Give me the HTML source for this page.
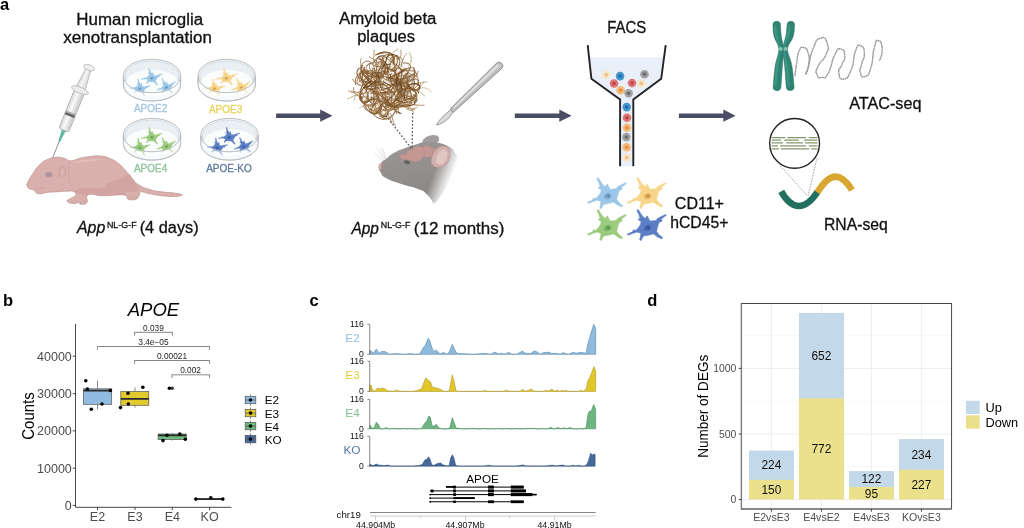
<!DOCTYPE html>
<html lang="en">
<head>
<meta charset="utf-8">
<title>Figure</title>
<style>
html,body{margin:0;padding:0;background:#fff;width:1024px;height:528px;overflow:hidden}
svg{display:block;position:absolute;left:0;top:0;filter:blur(0.4px)}
text{font-family:"Liberation Sans",sans-serif}
</style>
</head>
<body>
<svg width="1024" height="528" viewBox="0 0 1024 528">
<rect width="1024" height="528" fill="#fff"/>
<!-- Panel a : text and arrows -->
<g id="panel-a-text" fill="#111" stroke="#111" stroke-width="0.3">
<text x="0" y="9.6" font-size="16.5" font-weight="bold" fill="#000" stroke="none">a</text>
<text x="76.3" y="24.5" font-size="15.6" textLength="126.8" lengthAdjust="spacingAndGlyphs">Human microglia</text>
<text x="63.3" y="43" font-size="15.6" textLength="148.6" lengthAdjust="spacingAndGlyphs">xenotransplantation</text>
<text x="339.1" y="23.9" font-size="15.6" textLength="97.4" lengthAdjust="spacingAndGlyphs">Amyloid beta</text>
<text x="357.2" y="42.4" font-size="15.6" textLength="57.8" lengthAdjust="spacingAndGlyphs">plaques</text>
<text x="607.2" y="33.1" font-size="15.6" textLength="39" lengthAdjust="spacingAndGlyphs">FACS</text>
<text x="849.2" y="109.4" font-size="15.6" textLength="72.2" lengthAdjust="spacingAndGlyphs">ATAC-seq</text>
<text x="824" y="229.7" font-size="15.6" textLength="63.8" lengthAdjust="spacingAndGlyphs">RNA-seq</text>
<text x="674.8" y="209.4" font-size="15.6" textLength="49.2" lengthAdjust="spacingAndGlyphs">CD11+</text>
<text x="670.2" y="228.1" font-size="15.6" textLength="58.2" lengthAdjust="spacingAndGlyphs">hCD45+</text>
<text x="76.9" y="233" font-size="15.8" font-style="italic" textLength="28.4" lengthAdjust="spacingAndGlyphs">App</text>
<text x="106.9" y="227.5" font-size="9.2" textLength="29.7" lengthAdjust="spacingAndGlyphs">NL-G-F</text>
<text x="139.7" y="233" font-size="15.8" textLength="59" lengthAdjust="spacingAndGlyphs">(4 days)</text>
<text x="351.4" y="233.9" font-size="15.8" font-style="italic" textLength="27.6" lengthAdjust="spacingAndGlyphs">App</text>
<text x="380.8" y="228.3" font-size="9.2" textLength="29.5" lengthAdjust="spacingAndGlyphs">NL-G-F</text>
<text x="413.8" y="233.9" font-size="15.8" textLength="90.6" lengthAdjust="spacingAndGlyphs">(12 months)</text>
</g>
<g id="arrows" fill="#4b4d64">
<path d="M276.1 113.4H320.2V109.5L332.5 115.65L320.2 121.8V117.9H276.1Z"/>
<path d="M514.8 113.4H559.3V109.5L571.6 115.65L559.3 121.8V117.9H514.8Z"/>
<path d="M678.9 113.4H723.3V109.5L735.6 115.65L723.3 121.8V117.9H678.9Z"/>
</g>

<!-- Panel a : cells and petri dishes -->
<defs>
<g id="cell-b"><path d="M-10.00 -18.48L-9.09 -18.18L-6.52 -13.94L-4.24 -10.91L-1.97 -9.70L-0.76 -11.82L0.15 -11.97L0.76 -10.00L2.58 -6.82L8.33 -7.58L10.15 -9.70L11.97 -10.61L18.03 -13.64L18.64 -12.42L13.48 -8.64L14.70 -7.58L14.39 -6.67L11.97 -5.61L11.36 -4.55L10.15 -1.06L9.09 3.48L11.36 6.52L15.15 9.55L14.24 11.06L10.15 9.24L7.88 7.58L5.91 6.21L0.30 7.58L-3.79 8.18L-5.30 10.30L-6.36 12.73L-8.03 12.12L-7.27 8.03L-6.82 5.30L-10.76 4.24L-14.09 5.45L-19.55 7.42L-20.45 6.21L-15.30 3.79L-14.09 1.82L-13.03 1.82L-12.58 2.73L-9.55 0.00L-7.27 -3.33L-6.52 -6.36L-9.24 -7.88L-9.39 -8.94L-7.73 -9.39L-8.79 -13.18L-10.76 -17.27Z" fill="#9cc7e8" stroke="#9cc7e8" stroke-width="0.35" stroke-linejoin="round"/><ellipse cx="0" cy="0" rx="3.7" ry="2.8" transform="rotate(-20)" fill="#7aa7c9"/><ellipse cx="0.4" cy="-0.2" rx="1.5" ry="1" transform="rotate(20)" fill="#5a86a6"/></g>
<g id="cell-y"><path d="M-10.00 -18.48L-9.09 -18.18L-6.52 -13.94L-4.24 -10.91L-1.97 -9.70L-0.76 -11.82L0.15 -11.97L0.76 -10.00L2.58 -6.82L8.33 -7.58L10.15 -9.70L11.97 -10.61L18.03 -13.64L18.64 -12.42L13.48 -8.64L14.70 -7.58L14.39 -6.67L11.97 -5.61L11.36 -4.55L10.15 -1.06L9.09 3.48L11.36 6.52L15.15 9.55L14.24 11.06L10.15 9.24L7.88 7.58L5.91 6.21L0.30 7.58L-3.79 8.18L-5.30 10.30L-6.36 12.73L-8.03 12.12L-7.27 8.03L-6.82 5.30L-10.76 4.24L-14.09 5.45L-19.55 7.42L-20.45 6.21L-15.30 3.79L-14.09 1.82L-13.03 1.82L-12.58 2.73L-9.55 0.00L-7.27 -3.33L-6.52 -6.36L-9.24 -7.88L-9.39 -8.94L-7.73 -9.39L-8.79 -13.18L-10.76 -17.27Z" fill="#f7d58b" stroke="#f7d58b" stroke-width="0.35" stroke-linejoin="round"/><ellipse cx="0" cy="0" rx="3.7" ry="2.8" transform="rotate(-20)" fill="#e4b25e"/><ellipse cx="0.4" cy="-0.2" rx="1.5" ry="1" transform="rotate(20)" fill="#b58a3f"/></g>
<g id="cell-g"><path d="M-10.00 -18.48L-9.09 -18.18L-6.52 -13.94L-4.24 -10.91L-1.97 -9.70L-0.76 -11.82L0.15 -11.97L0.76 -10.00L2.58 -6.82L8.33 -7.58L10.15 -9.70L11.97 -10.61L18.03 -13.64L18.64 -12.42L13.48 -8.64L14.70 -7.58L14.39 -6.67L11.97 -5.61L11.36 -4.55L10.15 -1.06L9.09 3.48L11.36 6.52L15.15 9.55L14.24 11.06L10.15 9.24L7.88 7.58L5.91 6.21L0.30 7.58L-3.79 8.18L-5.30 10.30L-6.36 12.73L-8.03 12.12L-7.27 8.03L-6.82 5.30L-10.76 4.24L-14.09 5.45L-19.55 7.42L-20.45 6.21L-15.30 3.79L-14.09 1.82L-13.03 1.82L-12.58 2.73L-9.55 0.00L-7.27 -3.33L-6.52 -6.36L-9.24 -7.88L-9.39 -8.94L-7.73 -9.39L-8.79 -13.18L-10.76 -17.27Z" fill="#9bcb7d" stroke="#9bcb7d" stroke-width="0.35" stroke-linejoin="round"/><ellipse cx="0" cy="0" rx="3.7" ry="2.8" transform="rotate(-20)" fill="#76b35c"/><ellipse cx="0.4" cy="-0.2" rx="1.5" ry="1" transform="rotate(20)" fill="#4c8f47"/></g>
<g id="cell-k"><path d="M-10.00 -18.48L-9.09 -18.18L-6.52 -13.94L-4.24 -10.91L-1.97 -9.70L-0.76 -11.82L0.15 -11.97L0.76 -10.00L2.58 -6.82L8.33 -7.58L10.15 -9.70L11.97 -10.61L18.03 -13.64L18.64 -12.42L13.48 -8.64L14.70 -7.58L14.39 -6.67L11.97 -5.61L11.36 -4.55L10.15 -1.06L9.09 3.48L11.36 6.52L15.15 9.55L14.24 11.06L10.15 9.24L7.88 7.58L5.91 6.21L0.30 7.58L-3.79 8.18L-5.30 10.30L-6.36 12.73L-8.03 12.12L-7.27 8.03L-6.82 5.30L-10.76 4.24L-14.09 5.45L-19.55 7.42L-20.45 6.21L-15.30 3.79L-14.09 1.82L-13.03 1.82L-12.58 2.73L-9.55 0.00L-7.27 -3.33L-6.52 -6.36L-9.24 -7.88L-9.39 -8.94L-7.73 -9.39L-8.79 -13.18L-10.76 -17.27Z" fill="#5c7ec4" stroke="#5c7ec4" stroke-width="0.35" stroke-linejoin="round"/><ellipse cx="0" cy="0" rx="3.7" ry="2.8" transform="rotate(-20)" fill="#4466b0"/><ellipse cx="0.4" cy="-0.2" rx="1.5" ry="1" transform="rotate(20)" fill="#2b4b93"/></g>
</defs>
<g id="facs-cells">
<use href="#cell-b" x="607.7" y="196.1"/>
<use href="#cell-y" x="647.6" y="196.1"/>
<use href="#cell-g" x="607.7" y="227.9"/>
<use href="#cell-k" x="647.6" y="227.9"/>
</g>
<g id="dishes">
<path d="M123.4 75.5A28.6 16.2 0 0 1 180.6 75.5V84.8A28.6 16.2 0 0 1 123.4 84.8Z" fill="#f1f5f6" stroke="#b3b8bc" stroke-width="0.9"/>
<ellipse cx="152" cy="75.9" rx="27.0" ry="14.799999999999999" fill="#e9eff2" stroke="#c6cbcf" stroke-width="0.5"/>
<ellipse cx="152" cy="83.1" rx="26.0" ry="13.2" fill="#fbfdfd"/>
<path d="M124.60000000000001 77.5A27.400000000000002 15.2 0 0 0 179.4 77.5" fill="none" stroke="#c9ced2" stroke-width="0.7"/>
<use href="#cell-b" transform="translate(151.7 78.3) scale(0.5) rotate(14)"/>
<use href="#cell-b" transform="translate(139.8 88.7) scale(0.48) rotate(20)"/>
<use href="#cell-b" transform="translate(166.4 87.5) scale(0.48) rotate(4)"/>
<path d="M123.4 76.5A28.6 16.2 0 0 0 180.6 76.5V84.8A28.6 16.2 0 0 1 123.4 84.8Z" fill="#ffffff" fill-opacity="0.45" stroke="#b3b8bc" stroke-width="0.8"/>
<text x="150.6" y="111.8" font-size="10" text-anchor="middle" fill="#a3c5e0" stroke="#a3c5e0" stroke-width="0.3">APOE2</text>
<path d="M198.1 75.5A28.6 16.2 0 0 1 255.29999999999998 75.5V84.8A28.6 16.2 0 0 1 198.1 84.8Z" fill="#f1f5f6" stroke="#b3b8bc" stroke-width="0.9"/>
<ellipse cx="226.7" cy="75.9" rx="27.0" ry="14.799999999999999" fill="#e9eff2" stroke="#c6cbcf" stroke-width="0.5"/>
<ellipse cx="226.7" cy="83.1" rx="26.0" ry="13.2" fill="#fbfdfd"/>
<path d="M199.29999999999998 77.5A27.400000000000002 15.2 0 0 0 254.1 77.5" fill="none" stroke="#c9ced2" stroke-width="0.7"/>
<use href="#cell-y" transform="translate(226.4 78.3) scale(0.5) rotate(14)"/>
<use href="#cell-y" transform="translate(214.5 88.7) scale(0.48) rotate(20)"/>
<use href="#cell-y" transform="translate(241.1 87.5) scale(0.48) rotate(4)"/>
<path d="M198.1 76.5A28.6 16.2 0 0 0 255.29999999999998 76.5V84.8A28.6 16.2 0 0 1 198.1 84.8Z" fill="#ffffff" fill-opacity="0.45" stroke="#b3b8bc" stroke-width="0.8"/>
<text x="225.6" y="113.1" font-size="10" text-anchor="middle" fill="#e6d45c" stroke="#e6d45c" stroke-width="0.3">APOE3</text>
<path d="M123.4 134.6A28.6 16.2 0 0 1 180.6 134.6V143.9A28.6 16.2 0 0 1 123.4 143.9Z" fill="#f1f5f6" stroke="#b3b8bc" stroke-width="0.9"/>
<ellipse cx="152" cy="135.0" rx="27.0" ry="14.799999999999999" fill="#e9eff2" stroke="#c6cbcf" stroke-width="0.5"/>
<ellipse cx="152" cy="142.2" rx="26.0" ry="13.2" fill="#fbfdfd"/>
<path d="M124.60000000000001 136.6A27.400000000000002 15.2 0 0 0 179.4 136.6" fill="none" stroke="#c9ced2" stroke-width="0.7"/>
<use href="#cell-g" transform="translate(151.7 137.4) scale(0.5) rotate(14)"/>
<use href="#cell-g" transform="translate(139.8 147.8) scale(0.48) rotate(20)"/>
<use href="#cell-g" transform="translate(166.4 146.6) scale(0.48) rotate(4)"/>
<path d="M123.4 135.6A28.6 16.2 0 0 0 180.6 135.6V143.9A28.6 16.2 0 0 1 123.4 143.9Z" fill="#ffffff" fill-opacity="0.45" stroke="#b3b8bc" stroke-width="0.8"/>
<text x="150.6" y="172.3" font-size="10" text-anchor="middle" fill="#8cc49a" stroke="#8cc49a" stroke-width="0.3">APOE4</text>
<path d="M200.9 134.6A28.6 16.2 0 0 1 258.1 134.6V143.9A28.6 16.2 0 0 1 200.9 143.9Z" fill="#f1f5f6" stroke="#b3b8bc" stroke-width="0.9"/>
<ellipse cx="229.5" cy="135.0" rx="27.0" ry="14.799999999999999" fill="#e9eff2" stroke="#c6cbcf" stroke-width="0.5"/>
<ellipse cx="229.5" cy="142.2" rx="26.0" ry="13.2" fill="#fbfdfd"/>
<path d="M202.1 136.6A27.400000000000002 15.2 0 0 0 256.90000000000003 136.6" fill="none" stroke="#c9ced2" stroke-width="0.7"/>
<use href="#cell-k" transform="translate(229.2 137.4) scale(0.5) rotate(14)"/>
<use href="#cell-k" transform="translate(217.3 147.8) scale(0.48) rotate(20)"/>
<use href="#cell-k" transform="translate(243.9 146.6) scale(0.48) rotate(4)"/>
<path d="M200.9 135.6A28.6 16.2 0 0 0 258.1 135.6V143.9A28.6 16.2 0 0 1 200.9 143.9Z" fill="#ffffff" fill-opacity="0.45" stroke="#b3b8bc" stroke-width="0.8"/>
<text x="229" y="172.3" font-size="10" text-anchor="middle" fill="#5d7a9e" stroke="#5d7a9e" stroke-width="0.3">APOE-KO</text>
</g>

<!-- Panel a : syringe and pup -->
<g id="pup">
<path d="M27.4 183.2C28.9 179.8 28.6 180.1 32.3 174.5C36.0 169.0 34.9 169.3 39.7 164.7C44.5 160.1 43.1 161.4 48.3 159.2C53.5 156.9 52.1 157.6 56.9 157.3C61.7 157.1 60.3 157.3 64.3 158.3C68.4 159.3 66.0 160.7 70.5 160.8C74.9 160.8 73.6 159.8 79.1 158.5C84.6 157.3 82.7 157.4 88.9 156.7C95.2 156.0 93.8 155.5 100.0 156.1C106.3 156.6 104.3 156.3 109.8 158.5C115.4 160.8 113.7 159.8 118.5 163.5C123.3 167.2 121.8 166.4 125.9 170.9C129.9 175.3 128.3 174.2 132.0 178.2C135.7 182.3 133.0 181.1 138.2 184.4C143.3 187.7 142.2 187.1 149.2 189.3C156.3 191.5 154.2 190.7 161.6 191.8C168.9 192.9 168.1 192.3 173.9 193.0C179.6 193.8 178.5 193.5 180.6 194.2C182.8 195.0 183.0 194.8 181.0 195.5C179.0 196.1 179.7 196.4 173.9 196.5C168.0 196.5 168.9 196.6 161.6 195.7C154.2 194.9 155.5 194.8 149.2 193.6C143.0 192.5 143.5 191.6 140.6 191.8C137.7 192.0 140.8 192.2 139.6 194.2C138.5 196.3 139.2 196.9 136.9 198.6C134.6 200.2 134.8 199.7 132.0 199.8C129.2 199.9 129.6 200.2 127.7 198.9C125.8 197.6 128.4 196.7 125.6 195.5C122.8 194.3 123.9 194.8 118.5 194.9C113.0 194.9 112.9 195.5 107.4 195.7C101.9 195.9 105.2 195.9 100.0 195.5C94.9 195.0 94.2 193.9 90.2 194.2C86.2 194.6 87.7 194.3 86.7 196.7C85.8 199.1 88.7 200.0 87.1 202.3C85.5 204.5 84.3 204.2 81.6 204.3C78.8 204.5 80.3 202.8 77.9 202.6C75.5 202.4 76.7 204.0 73.6 203.7C70.4 203.4 68.7 203.0 67.4 201.6C66.1 200.3 66.8 201.0 69.2 199.2C71.6 197.3 73.9 197.7 75.4 195.5C76.9 193.3 76.8 193.1 74.2 191.8C71.6 190.5 72.0 191.2 66.8 191.2C61.6 191.2 62.8 191.4 56.9 191.8C51.0 192.2 52.6 191.8 47.1 192.4C41.5 193.0 42.5 194.4 38.5 193.6C34.4 192.9 36.3 191.4 33.5 189.9C30.8 188.5 31.2 190.0 29.2 188.7C27.3 187.4 27.7 187.3 27.1 185.6C26.6 184.0 25.8 186.5 27.4 183.2Z" fill="#d9b0ae" stroke="#bd8f8d" stroke-width="0.7" stroke-linejoin="round"/>
<path d="M74.2 192.0C74.5 190.7 74.9 190.7 77.9 189.3C80.8 188.0 79.2 187.8 84.0 187.5C88.8 187.2 88.0 188.5 93.9 188.3C99.8 188.2 99.7 188.4 103.7 186.9C107.8 185.3 103.0 185.4 107.4 183.2C111.8 181.0 112.2 182.1 118.5 179.5C124.7 176.9 124.2 174.8 128.3 174.5C132.5 174.3 129.7 175.3 132.3 178.5C134.8 181.6 135.5 181.4 136.9 185.0C138.3 188.6 140.1 188.3 136.9 190.6C133.8 192.8 129.9 191.0 126.5 192.4C123.1 193.8 128.0 194.5 125.6 195.2C123.2 196.0 123.9 194.7 118.5 194.9C113.0 195.0 112.9 195.5 107.4 195.7C101.9 195.9 105.2 195.9 100.0 195.5C94.9 195.0 93.9 194.2 90.2 194.2C86.4 194.3 90.1 195.7 87.5 195.7C84.9 195.7 84.8 194.9 81.6 194.2C78.3 193.6 78.9 194.3 76.6 193.6C74.4 193.0 73.8 193.3 74.2 192.0Z" fill="#cb9a98" fill-opacity="0.5"/>
<path d="M72 163C80 160 92 158.5 104 159.5C96 161 82 162.5 72 163Z" fill="#e6c0be" fill-opacity="0.8"/>
<ellipse cx="48.9" cy="174.6" rx="3.6" ry="2.9" fill="#b4969d"/>
<path d="M46.3 174.6Q49 175.8 51.6 174.2" fill="none" stroke="#9c8088" stroke-width="0.5"/>
<path d="M60 176.5C58.6 172.5 60 168 62.4 167C65.2 167.3 66.2 171.5 64.6 174.8C63.6 176.2 62.4 176.6 61.6 176" fill="#dcb5b3" stroke="#b98c8a" stroke-width="0.6"/>
<path d="M32 182.6Q33 182.2 33.4 183" fill="none" stroke="#b98987" stroke-width="0.5"/>
<path d="M34.5 189.5Q40 189.5 44.5 187.6" fill="none" stroke="#c08f8d" stroke-width="0.5"/>
<path d="M69.5 162Q67 172 69.5 182Q71.5 188 76 192" fill="none" stroke="#cf9f9d" stroke-width="0.5"/>
<path d="M129.6 196.2Q129 198 129.8 199.3M132.8 196.4Q132.6 198.4 133.2 199.8M135.8 196Q136 198 136.4 199" fill="none" stroke="#bd8f8d" stroke-width="0.5"/>
<path d="M72.5 200.5L70.6 203M76.6 201L76 203.6M80.8 201L81.4 204M84.4 200L85.8 202.6" fill="none" stroke="#bd8f8d" stroke-width="0.5"/>
</g>
<g id="syringe" transform="translate(89.1 67.6) rotate(22)">
<line x1="0" y1="78" x2="0" y2="96.8" stroke="#6d6d6d" stroke-width="0.7"/>
<path d="M-2 66.5H2L0.7 79.5H-0.7Z" fill="#5fb9a4" stroke="#3f9a86" stroke-width="0.3"/>
<path d="M-5.3 25H5.3V65Q5.3 67.8 2.6 67.8H-2.6Q-5.3 67.8 -5.3 65Z" fill="#e3e3e3" stroke="#9e9e9e" stroke-width="0.7"/>
<path d="M-2.6 26H0.4V66.6H-2.6Z" fill="#f6f6f6"/>
<path d="M2.8 26H4.8V66H2.8Z" fill="#d0d0d0"/>
<path d="M-5 50H5V52.4H-5Z" fill="#5f5f5f"/>
<path d="M-5 48.4H5V50H-5Z" fill="#a5a5a5"/>
<path d="M-2.6 1.5H2.6L4.8 22.5H-4.8Z" fill="#e3e3e3" stroke="#a0a0a0" stroke-width="0.6"/>
<path d="M-1.4 2.5H0.6L1 22H-1.8Z" fill="#f4f4f4"/>
<ellipse cx="0" cy="24.3" rx="9" ry="3" fill="#ececec" stroke="#a6a6a6" stroke-width="0.6"/>
<ellipse cx="0" cy="0" rx="5.8" ry="2.7" fill="#f0f0f0" stroke="#a6a6a6" stroke-width="0.6"/>
</g>

<!-- Panel a : amyloid plaque, scalpel, adult mouse head -->
<g id="plaque" fill="none" stroke-linecap="round">
<ellipse cx="388.6" cy="86.3" rx="25.2" ry="25.2" fill="#8c6636" fill-opacity="0.15" stroke="none"/>
<path d="M377.5 108.5C376.9 109.4 376.6 109.2 375.7 111.1C374.7 113.0 375.0 112.6 374.7 114.1C374.4 115.7 374.7 115.2 374.7 115.7" stroke="#b1925f" stroke-width="0.8"/>
<path d="M390.2 113.3C390.7 114.3 390.9 114.2 391.7 116.1C392.5 118.1 392.0 117.2 392.6 119.2C393.2 121.2 392.7 120.3 393.5 122.3C394.4 124.2 394.6 124.1 395.1 125.0C395.6 126.0 395.1 125.0 395.1 125.0" stroke="#94683a" stroke-width="0.8"/>
<path d="M403.8 105.7C404.7 106.2 404.7 106.3 406.6 107.2C408.5 108.2 407.5 108.0 409.6 108.4C411.6 108.9 410.6 108.9 412.7 108.7C414.8 108.5 414.3 108.4 415.8 107.8C417.3 107.2 416.7 107.2 417.1 107.0" stroke="#a27a48" stroke-width="0.8"/>
<path d="M360.1 92.6C359.2 93.1 358.9 92.8 357.3 94.2C355.7 95.5 356.3 94.8 355.3 96.6C354.3 98.4 354.6 98.6 354.3 99.6C354.0 100.6 354.3 99.6 354.3 99.6" stroke="#b1925f" stroke-width="0.8"/>
<path d="M408.0 104.1C408.6 105.0 408.6 105.0 409.8 106.8C411.0 108.5 410.5 107.5 411.6 109.4C412.8 111.2 412.6 111.2 413.1 112.2C413.6 113.1 413.1 112.2 413.1 112.2" stroke="#a27a48" stroke-width="0.8"/>
<path d="M366.0 71.1C365.2 70.4 365.1 70.5 363.6 68.9C362.2 67.4 362.7 68.2 361.7 66.4C360.7 64.5 361.0 65.4 360.7 63.4C360.3 61.3 360.6 61.8 360.7 60.2C360.9 58.6 361.0 59.2 361.1 58.6" stroke="#a27a48" stroke-width="0.8"/>
<path d="M414.9 90.1C415.8 89.5 416.1 89.8 417.7 88.4C419.2 87.1 418.6 87.8 419.6 85.9C420.6 84.1 420.4 83.9 420.7 82.9C421.1 81.9 420.7 82.9 420.7 82.9" stroke="#94683a" stroke-width="0.8"/>
<path d="M367.8 101.1C367.2 102.0 367.5 102.3 366.2 103.8C364.8 105.4 365.4 104.6 363.6 105.8C361.8 106.9 362.2 106.4 360.8 107.2C359.4 108.0 359.9 107.8 359.4 108.1" stroke="#c2a673" stroke-width="0.8"/>
<path d="M417.2 88.5C418.1 87.9 418.2 88.1 419.9 86.8C421.5 85.4 420.8 86.1 422.1 84.4C423.4 82.8 423.2 82.6 423.7 81.7C424.3 80.8 423.7 81.7 423.7 81.7" stroke="#b1925f" stroke-width="0.8"/>
<path d="M360.8 94.1C359.8 93.6 359.8 93.5 357.9 92.8C355.9 92.0 356.9 92.2 354.8 91.7C352.8 91.2 353.8 91.4 351.7 91.3C349.6 91.1 349.5 91.2 348.5 91.2C347.4 91.2 348.5 91.2 348.5 91.2" stroke="#b1925f" stroke-width="0.8"/>
<path d="M410.3 102.6C411.2 103.1 411.1 103.5 413.1 104.3C415.0 105.0 414.1 104.6 416.2 104.9C418.3 105.2 417.2 105.1 419.4 105.2C421.5 105.4 421.0 105.4 422.6 105.3C424.2 105.3 423.6 105.2 424.1 105.1" stroke="#94683a" stroke-width="0.8"/>
<path d="M363.1 89.5C362.2 90.0 362.3 90.2 360.4 91.2C358.5 92.1 359.4 91.8 357.4 92.3C355.3 92.8 356.3 92.8 354.2 92.7C352.1 92.6 352.1 92.3 351.1 92.0C350.1 91.8 351.1 92.0 351.1 92.0" stroke="#a27a48" stroke-width="0.8"/>
<path d="M417.2 82.4C418.2 82.4 418.2 82.5 420.4 82.5C422.5 82.5 421.4 82.5 423.6 82.4C425.7 82.2 425.7 82.2 426.8 82.1C427.8 82.0 426.8 82.1 426.8 82.1" stroke="#c2a673" stroke-width="0.8"/>
<path d="M398.5 59.5C399.1 58.6 399.5 58.8 400.3 56.9C401.2 55.0 401.0 55.9 401.1 53.8C401.2 51.7 400.9 51.7 400.7 50.6C400.6 49.6 400.7 50.6 400.7 50.6" stroke="#a27a48" stroke-width="0.8"/>
<path d="M360.9 95.8C359.9 95.6 359.9 95.2 357.8 95.1C355.8 95.0 356.7 94.9 354.7 95.5C352.7 96.1 353.7 96.0 351.8 96.9C349.9 97.8 350.4 97.6 348.9 98.3C347.5 98.9 347.9 98.7 347.4 98.9" stroke="#b1925f" stroke-width="0.8"/>
<path d="M401.1 65.1C401.5 64.1 401.5 64.1 402.2 62.1C403.0 60.1 402.5 61.0 403.3 59.1C404.1 57.1 403.5 58.0 404.5 56.1C405.6 54.2 405.8 54.4 406.4 53.5C407.0 52.6 406.4 53.5 406.4 53.5" stroke="#b1925f" stroke-width="0.8"/>
<path d="M384.7 61.7C384.2 60.7 383.8 60.9 383.1 58.9C382.5 56.9 382.6 57.8 382.6 55.7C382.7 53.6 383.1 53.7 383.4 52.6C383.6 51.6 383.4 52.6 383.4 52.6" stroke="#c2a673" stroke-width="0.8"/>
<path d="M416.8 90.1C417.7 90.7 417.8 90.5 419.6 91.7C421.3 92.9 420.4 92.4 422.1 93.7C423.7 95.1 423.7 95.1 424.5 95.8C425.3 96.5 424.5 95.8 424.5 95.8" stroke="#c2a673" stroke-width="0.8"/>
<path d="M390.8 60.6C390.9 59.5 390.7 59.5 391.1 57.4C391.6 55.3 391.1 56.2 392.0 54.3C392.9 52.4 392.4 53.2 393.9 51.7C395.4 50.3 395.2 50.8 396.5 49.9C397.8 49.1 397.4 49.4 397.9 49.1" stroke="#b1925f" stroke-width="0.8"/>
<path d="M408.4 66.0C409.0 65.1 409.4 65.3 410.3 63.5C411.3 61.6 411.0 62.5 411.2 60.4C411.5 58.3 411.4 59.3 411.1 57.2C410.7 55.1 410.6 55.7 410.1 54.2C409.6 52.6 409.8 53.2 409.6 52.7" stroke="#b1925f" stroke-width="0.8"/>
<path d="M388.8 111.8C388.2 112.7 388.5 113.0 387.0 114.4C385.5 115.9 386.3 115.4 384.4 116.2C382.4 117.0 382.8 116.7 381.2 116.8C379.7 116.9 380.2 116.7 379.6 116.6" stroke="#94683a" stroke-width="0.8"/>
<path d="M360.1 84.8C359.1 84.6 358.9 84.9 357.0 84.0C355.2 83.1 356.0 83.5 354.5 82.0C353.1 80.5 353.3 80.3 352.7 79.4C352.1 78.6 352.7 79.4 352.7 79.4" stroke="#94683a" stroke-width="0.8"/>
<path d="M407.7 104.6C408.8 104.6 408.8 104.5 410.9 104.6C413.0 104.7 412.0 104.6 414.1 104.8C416.2 105.1 416.2 105.2 417.2 105.5C418.3 105.7 417.2 105.5 417.2 105.5" stroke="#c2a673" stroke-width="0.8"/>
<path d="M388.1 111.0C388.2 112.1 388.0 112.1 388.5 114.2C388.9 116.3 388.6 115.3 389.4 117.3C390.2 119.3 389.9 118.2 390.7 120.2C391.6 122.1 391.5 122.2 391.9 123.1C392.3 124.1 391.9 123.1 391.9 123.1" stroke="#a27a48" stroke-width="0.8"/>
<path d="M376.9 111.8C377.5 112.7 377.2 112.9 378.6 114.5C380.0 116.0 379.3 115.4 381.1 116.4C383.0 117.5 382.1 116.8 384.1 117.6C386.1 118.3 386.1 118.4 387.1 118.8C388.1 119.2 387.1 118.8 387.1 118.8" stroke="#b1925f" stroke-width="0.8"/>
<path d="M410.6 99.2C410.8 100.2 411.2 100.2 411.1 102.3C410.9 104.4 411.1 103.5 410.2 105.4C409.3 107.3 409.0 107.1 408.3 107.9C407.7 108.8 408.3 107.9 408.3 107.9" stroke="#94683a" stroke-width="0.8"/>
<path d="M381.1 63.0C380.1 62.6 380.1 62.6 378.2 61.7C376.2 60.8 377.2 61.3 375.3 60.3C373.4 59.3 374.4 59.8 372.5 58.7C370.7 57.6 370.7 57.5 369.8 57.0C368.9 56.4 369.8 57.0 369.8 57.0" stroke="#94683a" stroke-width="0.8"/>
<path d="M418.1 88.4C419.2 88.3 419.1 88.1 421.3 87.9C423.4 87.8 422.4 87.7 424.4 88.0C426.5 88.3 425.6 88.0 427.5 88.9C429.4 89.8 429.0 89.6 430.2 90.6C431.4 91.6 430.9 91.5 431.2 91.9" stroke="#c2a673" stroke-width="0.8"/>
<path d="M381.9 112.3C382.5 113.1 382.3 113.4 383.6 114.9C385.0 116.5 384.3 116.0 386.1 117.0C387.9 118.1 387.6 117.6 389.1 118.1C390.6 118.5 390.1 118.2 390.7 118.3" stroke="#b1925f" stroke-width="0.8"/>
<path d="M373.5 63.1C373.5 62.1 373.3 62.1 373.4 59.9C373.4 57.8 373.6 58.9 373.7 56.8C373.9 54.6 373.7 55.7 373.9 53.6C374.1 51.4 374.2 51.4 374.3 50.4C374.5 49.3 374.3 50.4 374.3 50.4" stroke="#a27a48" stroke-width="0.8"/>
<path d="M411.7 83.7C412.7 83.8 412.7 83.8 414.8 84.2C416.9 84.6 416.3 83.8 418.0 84.8C419.7 85.8 419.5 85.4 419.9 87.2C420.3 89.0 420.1 88.5 419.1 90.2C418.0 91.9 418.3 91.0 416.7 92.4C415.1 93.8 415.5 92.8 414.2 94.4C412.9 96.0 413.4 95.8 412.7 97.2C412.1 98.6 412.4 98.2 412.2 98.7" stroke="#a88458" stroke-width="0.9"/>
<path d="M402.4 83.3C401.8 84.2 401.6 84.1 400.6 85.9C399.5 87.8 399.8 86.8 399.3 88.8C398.8 90.9 398.8 90.0 399.1 92.0C399.5 94.1 399.9 94.0 400.2 95.0C400.6 96.0 400.2 95.0 400.2 95.0" stroke="#80552a" stroke-width="0.9"/>
<path d="M382.4 105.5C383.3 106.1 383.6 105.8 385.0 107.3C386.5 108.8 386.0 108.0 386.9 109.9C387.7 111.8 387.7 111.0 387.5 113.0C387.4 115.0 387.8 114.8 386.4 115.8C384.9 116.8 385.0 116.7 383.2 116.0C381.4 115.4 381.9 115.7 380.9 113.9C380.0 112.2 380.3 112.9 380.3 110.8C380.3 108.7 380.1 109.6 381.0 107.7C381.8 105.7 382.2 105.9 382.8 105.0C383.4 104.2 382.8 105.0 382.8 105.0" stroke="#80552a" stroke-width="1.1"/>
<path d="M367.9 74.2C367.2 73.4 367.5 72.8 365.8 71.8C364.1 70.8 364.5 70.6 362.8 71.2C361.2 71.8 361.5 71.8 360.8 73.6C360.1 75.5 360.4 74.7 360.7 76.8C361.0 78.9 360.8 77.9 361.7 79.8C362.6 81.7 362.3 80.7 363.3 82.6C364.4 84.4 364.2 83.9 364.9 85.3C365.7 86.7 365.4 86.3 365.7 86.8" stroke="#8c6236" stroke-width="1.1"/>
<path d="M366.1 90.0C366.7 89.2 366.6 89.1 368.0 87.5C369.3 85.8 368.6 86.6 370.2 85.1C371.7 83.7 370.9 84.4 372.7 83.1C374.4 81.9 373.6 82.6 375.3 81.4C377.1 80.2 376.6 80.5 377.9 79.4C379.1 78.4 378.6 78.7 379.0 78.3" stroke="#a88458" stroke-width="0.9"/>
<path d="M388.0 72.3C387.0 72.1 387.0 71.9 384.9 71.8C382.7 71.7 383.8 71.6 381.7 71.9C379.6 72.2 380.5 71.9 378.5 72.6C376.5 73.3 376.6 73.5 375.6 74.0C374.7 74.4 375.6 74.0 375.6 74.0" stroke="#8c6236" stroke-width="1.1"/>
<path d="M375.1 82.0C376.1 82.3 376.1 82.4 378.2 82.9C380.2 83.4 379.3 82.9 381.3 83.5C383.3 84.1 382.5 83.6 384.3 84.7C386.1 85.7 385.1 85.3 386.7 86.7C388.3 88.2 387.5 87.5 389.0 88.9C390.6 90.4 390.2 90.0 391.4 91.1C392.6 92.1 392.2 91.8 392.6 92.1" stroke="#855a2e" stroke-width="1.1"/>
<path d="M385.1 74.6C385.7 73.8 386.1 73.9 386.9 72.0C387.8 70.1 387.6 71.0 387.7 68.9C387.7 66.9 387.8 67.8 387.1 65.8C386.4 63.8 386.8 64.7 385.5 63.0C384.2 61.4 384.8 62.2 383.1 60.9C381.4 59.7 381.8 59.9 380.4 59.3C378.9 58.7 379.3 59.3 378.8 59.2" stroke="#80552a" stroke-width="1.1"/>
<path d="M384.8 101.3C383.9 102.0 383.8 101.8 382.3 103.4C380.8 104.9 381.3 104.0 380.3 105.8C379.3 107.7 379.7 106.8 379.3 108.9C378.9 111.0 378.8 110.1 379.1 112.1C379.4 114.1 378.9 113.8 380.3 114.9C381.7 115.9 381.5 115.7 383.4 115.2C385.3 114.7 384.3 114.6 385.9 113.3C387.6 112.0 386.6 112.4 388.4 111.3C390.2 110.2 390.4 110.5 391.3 110.1C392.3 109.6 391.3 110.1 391.3 110.1" stroke="#9a7444" stroke-width="1.1"/>
<path d="M409.3 92.9C408.3 93.3 408.2 93.2 406.3 94.1C404.4 95.1 405.2 94.5 403.6 95.8C401.9 97.0 402.5 96.3 401.3 98.0C400.1 99.7 400.7 98.9 400.0 100.9C399.2 102.9 399.5 101.9 399.0 104.0C398.5 106.0 398.6 105.0 398.4 107.1C398.2 109.2 398.0 108.2 398.3 110.3C398.6 112.4 399.0 112.3 399.3 113.3C399.6 114.3 399.3 113.3 399.3 113.3" stroke="#9a7444" stroke-width="1.0"/>
<path d="M395.7 68.9C394.7 69.1 394.7 69.1 392.6 69.5C390.5 69.9 391.5 69.6 389.5 70.1C387.4 70.7 388.4 70.3 386.5 71.3C384.6 72.3 385.4 71.7 383.8 73.1C382.3 74.5 382.9 73.7 381.8 75.5C380.7 77.3 380.9 77.5 380.5 78.4C380.0 79.4 380.5 78.4 380.5 78.4" stroke="#9a7444" stroke-width="0.9"/>
<path d="M385.3 91.7C385.2 92.7 385.2 92.7 385.2 94.9C385.2 97.0 385.0 96.0 385.3 98.1C385.6 100.2 385.2 99.3 386.1 101.1C387.0 103.0 386.6 102.1 388.1 103.7C389.5 105.2 388.9 104.3 390.4 105.8C391.9 107.3 391.0 106.8 392.6 108.2C394.1 109.6 393.4 108.9 395.1 110.1C396.8 111.4 395.9 111.0 397.7 112.0C399.5 113.0 399.6 112.8 400.6 113.2C401.5 113.6 400.6 113.2 400.6 113.2" stroke="#7c5228" stroke-width="1.1"/>
<path d="M405.2 78.3C404.2 78.5 404.1 78.5 402.1 79.0C400.0 79.5 401.1 79.3 399.0 79.8C396.9 80.2 397.9 80.3 395.8 80.4C393.7 80.5 394.7 80.6 392.7 80.1C390.6 79.6 391.7 79.8 389.7 78.9C387.8 78.0 388.3 78.2 386.9 77.5C385.4 76.8 385.9 77.1 385.4 76.9" stroke="#80552a" stroke-width="1.0"/>
<path d="M385.6 94.9C385.7 95.9 385.4 96.0 385.9 98.0C386.4 100.1 386.1 99.2 387.1 101.0C388.2 102.8 387.6 102.1 389.2 103.4C390.9 104.7 390.0 104.3 392.0 104.9C394.0 105.5 393.1 105.2 395.2 105.2C397.3 105.2 396.3 105.0 398.4 104.8C400.5 104.6 400.0 104.7 401.6 104.6C403.2 104.6 402.6 104.6 403.2 104.6" stroke="#9a7444" stroke-width="0.8"/>
<path d="M371.2 97.1C372.1 97.6 372.1 97.6 374.0 98.7C375.8 99.7 374.8 99.3 376.8 100.2C378.7 101.1 377.8 100.6 379.8 101.3C381.8 102.0 380.8 101.6 382.8 102.2C384.9 102.8 384.9 102.8 385.9 103.1C386.9 103.4 385.9 103.1 385.9 103.1" stroke="#80552a" stroke-width="1.1"/>
<path d="M387.4 68.3C387.7 69.3 387.5 69.4 388.2 71.4C389.0 73.4 388.6 72.4 389.6 74.3C390.6 76.2 390.2 75.2 391.3 77.0C392.4 78.8 391.6 78.1 393.0 79.7C394.3 81.3 393.6 80.6 395.3 81.9C397.0 83.2 396.1 82.6 398.0 83.6C399.9 84.6 398.9 84.3 401.0 84.9C403.0 85.4 402.0 85.3 404.1 85.2C406.2 85.2 406.2 84.8 407.3 84.6C408.3 84.5 407.3 84.6 407.3 84.6" stroke="#80552a" stroke-width="0.9"/>
<path d="M368.2 93.0C368.1 94.0 367.8 94.0 367.9 96.1C368.1 98.2 367.8 97.3 368.7 99.2C369.5 101.2 369.0 100.3 370.4 101.9C371.8 103.5 371.6 103.0 372.8 104.0C373.9 105.1 373.5 104.8 373.9 105.2" stroke="#66441e" stroke-width="0.9"/>
<path d="M402.0 86.5C401.4 87.4 401.3 87.3 400.2 89.2C399.1 91.0 399.8 90.2 398.8 92.0C397.7 93.9 398.1 92.9 397.1 94.8C396.1 96.7 396.5 95.7 395.8 97.7C395.0 99.7 395.3 98.7 394.9 100.7C394.4 102.8 394.6 101.8 394.4 103.9C394.3 106.0 394.1 105.0 394.4 107.1C394.7 109.2 394.6 108.2 395.3 110.2C396.0 112.2 396.1 112.1 396.5 113.1C396.9 114.1 396.5 113.1 396.5 113.1" stroke="#80552a" stroke-width="1.0"/>
<path d="M390.7 80.3C391.1 81.3 391.1 81.3 391.8 83.3C392.6 85.3 392.2 84.3 392.9 86.3C393.6 88.3 393.6 87.3 394.0 89.3C394.4 91.4 394.2 91.0 394.1 92.5C394.1 94.1 393.9 93.6 393.8 94.1" stroke="#8c6236" stroke-width="0.8"/>
<path d="M390.4 103.7C391.3 103.3 391.4 103.4 393.3 102.4C395.1 101.3 394.2 101.8 395.9 100.5C397.6 99.2 396.6 99.8 398.3 98.5C400.0 97.2 399.1 97.5 401.0 96.7C402.9 95.8 402.0 96.1 404.1 95.9C406.2 95.8 405.2 95.8 407.3 96.2C409.3 96.6 408.3 96.4 410.3 97.1C412.3 97.8 411.3 97.7 413.3 98.2C415.3 98.7 415.4 98.5 416.4 98.6C417.4 98.7 416.4 98.6 416.4 98.6" stroke="#8c6236" stroke-width="1.0"/>
<path d="M370.0 88.5C370.8 89.2 370.6 89.5 372.4 90.6C374.2 91.6 373.3 91.1 375.4 91.6C377.4 92.2 376.4 91.9 378.5 92.3C380.6 92.6 379.6 92.6 381.7 92.6C383.8 92.6 382.8 92.7 384.9 92.3C387.0 91.9 386.4 91.9 387.9 91.4C389.5 90.9 388.9 91.0 389.4 90.8" stroke="#8c6236" stroke-width="1.1"/>
<path d="M384.9 99.2C385.0 100.3 384.6 100.4 385.1 102.4C385.7 104.4 385.3 103.5 386.5 105.3C387.7 107.0 387.0 106.4 388.6 107.6C390.3 108.9 389.5 108.5 391.5 109.0C393.5 109.6 393.1 109.3 394.7 109.2C396.3 109.2 395.7 109.0 396.2 108.9" stroke="#8c6236" stroke-width="1.0"/>
<path d="M396.7 85.8C395.6 85.8 395.6 85.8 393.5 85.6C391.4 85.4 392.5 85.2 390.3 85.2C388.2 85.2 389.3 85.3 387.2 85.5C385.0 85.7 386.1 85.8 384.0 85.7C381.9 85.6 382.8 85.8 380.8 85.3C378.8 84.7 379.7 85.1 377.9 83.9C376.1 82.8 376.9 83.4 375.5 81.8C374.1 80.2 374.3 80.0 373.8 79.2C373.2 78.3 373.8 79.2 373.8 79.2" stroke="#a88458" stroke-width="0.9"/>
<path d="M382.1 93.3C382.4 94.3 382.1 94.4 382.8 96.4C383.5 98.4 383.0 97.6 384.2 99.3C385.4 101.0 384.7 100.4 386.5 101.6C388.2 102.7 387.4 102.3 389.4 102.8C391.4 103.3 391.0 103.1 392.6 103.2C394.2 103.2 393.6 103.0 394.2 102.9" stroke="#8c6236" stroke-width="1.1"/>
<path d="M383.5 77.7C382.4 77.6 382.4 77.7 380.3 77.3C378.2 76.9 379.3 77.0 377.2 76.4C375.2 75.9 376.1 76.3 374.1 75.7C372.1 75.0 373.1 75.3 371.2 74.4C369.2 73.6 370.1 74.2 368.2 73.2C366.4 72.1 367.0 72.8 365.6 71.3C364.2 69.8 364.4 70.0 364.1 68.6C363.8 67.2 364.5 67.7 364.7 67.2" stroke="#7c5228" stroke-width="1.1"/>
<path d="M368.2 96.9C367.5 97.6 367.1 97.4 366.0 99.2C364.8 100.9 364.7 100.1 364.7 102.1C364.6 104.0 364.4 103.6 365.7 105.0C367.0 106.4 366.6 106.0 368.6 106.3C370.6 106.5 369.8 106.5 371.7 105.7C373.6 104.9 372.8 105.3 374.4 104.0C376.0 102.6 375.4 103.4 376.5 101.6C377.6 99.8 377.1 100.1 377.7 98.6C378.3 97.1 378.0 97.6 378.2 97.1" stroke="#9a7444" stroke-width="0.9"/>
<path d="M391.4 81.8C392.3 81.3 392.3 81.2 394.2 80.2C396.1 79.3 395.0 79.5 397.0 78.8C399.0 78.1 398.1 78.2 400.2 78.2C402.2 78.3 401.3 78.1 403.3 79.0C405.2 79.8 404.6 79.8 405.9 80.7C407.2 81.7 406.7 81.5 407.1 81.8" stroke="#9a7444" stroke-width="0.8"/>
<path d="M397.9 82.5C397.0 83.1 397.2 83.5 395.3 84.4C393.4 85.3 394.3 85.1 392.2 85.2C390.2 85.4 391.1 85.4 389.1 84.8C387.1 84.2 388.0 84.6 386.2 83.4C384.5 82.2 384.6 82.0 383.8 81.3C383.0 80.6 383.8 81.3 383.8 81.3" stroke="#855a2e" stroke-width="1.0"/>
<path d="M384.1 98.1C383.4 99.0 383.2 98.8 382.0 100.6C380.9 102.3 381.4 101.5 380.6 103.4C379.8 105.4 380.3 104.5 379.6 106.5C378.9 108.5 379.5 107.6 378.5 109.5C377.5 111.3 378.3 111.0 376.6 112.0C374.9 113.0 374.5 112.3 373.5 112.4C372.4 112.6 373.5 112.4 373.5 112.4" stroke="#a88458" stroke-width="0.8"/>
<path d="M371.7 92.8C372.7 93.0 372.7 93.0 374.8 93.4C376.9 93.8 375.8 93.8 378.0 93.9C380.1 94.0 379.0 94.0 381.1 93.7C383.2 93.4 382.2 93.5 384.3 93.0C386.3 92.5 385.3 92.4 387.4 92.3C389.5 92.1 388.5 92.0 390.5 92.5C392.6 93.0 392.1 93.0 393.5 93.8C394.8 94.6 394.3 94.5 394.7 94.8" stroke="#744c22" stroke-width="1.0"/>
<path d="M386.4 74.6C386.8 73.6 386.8 73.6 387.6 71.6C388.3 69.6 387.9 70.6 388.6 68.5C389.2 66.5 388.8 67.5 389.5 65.5C390.3 63.5 389.8 64.4 390.8 62.6C391.9 60.7 391.4 61.7 392.6 59.9C393.8 58.1 392.9 58.6 394.4 57.2C395.9 55.8 396.2 56.2 397.2 55.7C398.1 55.2 397.2 55.7 397.2 55.7" stroke="#855a2e" stroke-width="1.0"/>
<path d="M396.9 79.9C397.1 78.9 397.0 78.8 397.7 76.8C398.4 74.9 397.9 75.7 399.1 74.0C400.2 72.2 399.6 72.9 401.2 71.6C402.8 70.3 402.5 70.6 403.9 70.0C405.4 69.3 405.0 69.7 405.5 69.6" stroke="#7c5228" stroke-width="1.1"/>
<path d="M377.8 97.5C377.3 98.5 377.1 98.4 376.4 100.4C375.7 102.3 376.0 101.4 375.7 103.5C375.5 105.6 375.5 104.6 375.7 106.7C375.9 108.8 376.1 107.7 376.3 109.8C376.6 111.9 376.5 111.9 376.5 113.0C376.6 114.1 376.5 113.0 376.5 113.0" stroke="#a88458" stroke-width="1.1"/>
<path d="M388.4 74.4C388.3 75.4 387.9 75.4 388.0 77.5C388.2 79.6 387.9 78.7 388.8 80.6C389.6 82.5 389.1 81.8 390.6 83.2C392.1 84.7 391.4 84.2 393.3 85.0C395.2 85.7 394.3 85.6 396.4 85.6C398.5 85.6 397.6 85.7 399.5 84.9C401.4 84.1 400.9 84.1 402.2 83.1C403.4 82.1 402.9 82.3 403.3 81.9" stroke="#744c22" stroke-width="0.8"/>
<path d="M400.1 81.4C400.6 82.4 400.9 82.3 401.4 84.4C401.8 86.4 401.5 85.4 401.6 87.6C401.6 89.7 401.6 88.6 401.6 90.8C401.6 92.9 401.6 92.4 401.5 94.0C401.4 95.6 401.4 95.0 401.3 95.6" stroke="#66441e" stroke-width="1.0"/>
<path d="M370.9 84.3C371.7 85.0 371.5 85.4 373.2 86.5C375.0 87.6 374.2 87.2 376.2 87.7C378.2 88.2 377.3 88.1 379.4 87.9C381.5 87.7 381.4 87.4 382.5 87.1C383.5 86.9 382.5 87.1 382.5 87.1" stroke="#7c5228" stroke-width="0.9"/>
<path d="M374.5 74.9C373.7 74.3 373.9 74.0 372.0 73.0C370.1 72.1 371.0 72.7 368.9 72.1C366.9 71.6 367.9 71.5 365.8 71.4C363.7 71.2 364.5 70.8 362.7 71.6C360.9 72.4 361.6 72.1 360.4 73.8C359.2 75.5 359.5 74.7 359.1 76.7C358.8 78.7 358.6 78.0 359.3 79.8C360.1 81.7 360.7 81.4 361.4 82.2C362.0 83.0 361.4 82.2 361.4 82.2" stroke="#a88458" stroke-width="1.1"/>
<path d="M410.6 75.1C410.3 76.2 410.7 76.3 409.8 78.2C409.0 80.1 409.5 79.4 408.0 80.9C406.5 82.3 407.3 81.8 405.4 82.7C403.5 83.6 403.9 83.2 402.3 83.6C400.8 83.9 401.3 83.7 400.7 83.8" stroke="#744c22" stroke-width="0.9"/>
<path d="M390.5 108.1C391.5 107.8 391.5 107.8 393.6 107.2C395.6 106.5 394.5 106.6 396.6 106.1C398.6 105.5 397.6 105.5 399.7 105.5C401.8 105.4 400.9 105.3 402.9 105.9C404.8 106.6 403.9 106.4 405.6 107.6C407.3 108.8 406.2 108.7 408.1 109.6C409.9 110.4 409.1 110.2 411.2 110.1C413.3 110.1 413.3 109.7 414.3 109.4C415.3 109.2 414.3 109.4 414.3 109.4" stroke="#9a7444" stroke-width="0.9"/>
<path d="M372.2 76.6C372.9 77.4 372.7 77.5 374.2 79.1C375.6 80.6 374.8 80.0 376.5 81.3C378.1 82.6 377.2 82.2 379.2 83.0C381.1 83.8 380.7 83.5 382.3 83.6C383.8 83.7 383.3 83.5 383.9 83.4" stroke="#80552a" stroke-width="0.8"/>
<path d="M375.7 78.1C376.2 77.1 375.9 76.9 377.2 75.2C378.5 73.6 377.8 74.3 379.5 73.1C381.2 71.8 380.6 72.7 382.3 71.5C384.0 70.2 383.3 70.9 384.7 69.4C386.2 67.9 385.3 68.5 386.6 66.8C388.0 65.2 387.2 65.9 388.7 64.4C390.2 62.9 389.5 63.7 391.1 62.3C392.7 60.9 392.7 60.9 393.5 60.2C394.2 59.4 393.5 60.2 393.5 60.2" stroke="#9a7444" stroke-width="0.9"/>
<path d="M381.9 97.4C381.3 98.3 381.5 98.4 380.1 100.1C378.8 101.7 379.5 101.0 377.9 102.3C376.2 103.7 377.1 103.2 375.2 104.0C373.2 104.9 374.2 104.5 372.1 104.9C370.0 105.3 371.0 105.2 368.9 105.1C366.8 105.0 367.7 105.4 365.8 104.7C363.9 103.9 364.6 104.4 363.2 102.8C361.8 101.3 362.2 102.0 361.7 100.0C361.2 98.1 361.6 97.9 361.6 96.9C361.6 95.8 361.6 96.9 361.6 96.9" stroke="#7c5228" stroke-width="0.8"/>
<path d="M395.2 107.5C396.2 107.3 396.2 107.3 398.4 107.1C400.5 106.9 399.4 107.1 401.5 106.8C403.7 106.6 402.6 106.7 404.7 106.4C406.8 106.2 406.8 106.2 407.9 106.1C409.0 106.0 407.9 106.1 407.9 106.1" stroke="#855a2e" stroke-width="1.1"/>
<path d="M399.9 81.7C400.3 82.7 400.6 82.6 401.0 84.7C401.4 86.7 401.1 85.7 401.0 87.9C400.9 90.0 401.1 88.9 400.8 91.1C400.5 93.2 401.0 92.2 400.2 94.2C399.5 96.1 399.9 95.4 398.5 96.9C397.1 98.5 397.8 97.8 396.0 98.8C394.1 99.9 395.1 99.4 393.0 100.1C391.0 100.7 392.0 100.6 389.9 100.8C387.8 101.0 387.8 100.7 386.7 100.7C385.7 100.7 386.7 100.7 386.7 100.7" stroke="#66441e" stroke-width="0.8"/>
<path d="M371.1 74.6C370.3 73.8 370.1 74.0 368.8 72.4C367.4 70.7 367.8 71.6 367.0 69.7C366.3 67.8 366.0 68.4 366.5 66.6C367.0 64.8 367.4 65.3 368.6 64.3C369.7 63.2 369.5 63.8 370.0 63.6" stroke="#a88458" stroke-width="1.0"/>
<path d="M397.9 78.1C398.1 79.2 398.0 79.2 398.5 81.3C398.9 83.3 398.5 82.4 399.2 84.4C400.0 86.4 399.4 85.6 400.7 87.2C402.0 88.8 401.3 88.2 403.1 89.3C404.9 90.4 404.6 89.9 406.1 90.5C407.6 91.0 407.1 90.8 407.6 91.0" stroke="#8c6236" stroke-width="0.9"/>
<path d="M382.5 76.9C383.2 77.6 383.0 77.9 384.8 79.1C386.5 80.2 385.7 79.7 387.7 80.4C389.7 81.0 388.7 80.8 390.9 81.0C393.0 81.2 391.9 81.3 394.0 81.1C396.1 80.9 396.1 80.6 397.2 80.4C398.2 80.1 397.2 80.4 397.2 80.4" stroke="#9a7444" stroke-width="1.0"/>
<path d="M377.0 73.5C377.5 74.4 377.8 74.3 378.7 76.2C379.6 78.1 379.4 77.2 379.7 79.2C380.0 81.3 379.9 80.4 379.5 82.4C379.1 84.5 379.5 83.6 378.5 85.4C377.5 87.3 378.1 86.6 376.4 87.9C374.8 89.1 375.6 88.7 373.6 89.3C371.6 89.8 371.4 89.4 370.4 89.4C369.3 89.5 370.4 89.4 370.4 89.4" stroke="#66441e" stroke-width="1.0"/>
<path d="M387.3 107.5C388.1 106.8 388.1 106.8 389.8 105.5C391.5 104.2 390.7 104.9 392.3 103.6C393.9 102.2 393.1 102.8 394.7 101.4C396.2 99.9 395.3 100.4 397.0 99.2C398.7 97.9 398.3 98.3 399.8 97.7C401.2 97.0 400.8 97.4 401.3 97.3" stroke="#80552a" stroke-width="0.9"/>
<path d="M363.6 87.9C364.6 88.2 364.7 88.0 366.7 88.7C368.7 89.4 367.7 89.1 369.7 89.9C371.6 90.7 370.7 90.2 372.6 91.1C374.5 92.0 373.7 91.4 375.4 92.7C377.1 93.9 376.5 93.2 377.7 94.9C378.9 96.6 378.5 95.8 379.0 97.8C379.5 99.8 379.1 99.9 379.2 101.0C379.3 102.0 379.2 101.0 379.2 101.0" stroke="#744c22" stroke-width="0.9"/>
<path d="M389.3 77.4C390.3 77.0 390.5 77.4 392.3 76.2C394.0 75.1 393.3 75.7 394.5 74.0C395.7 72.3 395.3 73.1 395.8 71.1C396.2 69.0 396.2 69.9 395.9 67.9C395.6 65.8 395.7 66.8 394.9 64.8C394.1 62.9 394.0 62.9 393.6 61.9C393.1 60.9 393.6 61.9 393.6 61.9" stroke="#9a7444" stroke-width="1.1"/>
<path d="M405.3 82.1C406.0 82.9 405.8 83.1 407.3 84.6C408.7 86.2 408.1 85.3 409.6 86.8C411.2 88.2 410.4 87.5 412.0 88.9C413.6 90.4 413.0 89.5 414.3 91.1C415.7 92.8 415.8 92.0 416.0 93.8C416.2 95.7 416.3 95.3 415.0 96.8C413.7 98.2 414.2 97.7 412.2 98.2C410.2 98.8 411.1 98.7 409.0 98.5C406.9 98.3 406.9 98.0 405.9 97.7C404.9 97.5 405.9 97.7 405.9 97.7" stroke="#855a2e" stroke-width="1.1"/>
<path d="M381.0 70.4C381.3 69.4 381.4 69.4 382.0 67.4C382.6 65.3 382.4 66.4 382.7 64.3C383.1 62.2 383.0 63.2 383.0 61.1C382.9 59.0 383.7 59.3 382.6 57.9C381.5 56.5 381.5 56.6 379.7 56.8C377.9 57.1 378.4 57.1 377.2 58.7C376.0 60.4 376.6 59.7 376.2 61.7C375.8 63.8 376.0 63.9 376.0 64.9C375.9 66.0 376.0 64.9 376.0 64.9" stroke="#80552a" stroke-width="0.9"/>
<path d="M401.0 92.3C400.1 91.6 400.1 91.7 398.5 90.2C397.0 88.8 397.8 89.4 396.3 87.9C394.8 86.4 395.5 87.2 394.1 85.6C392.6 84.1 393.1 85.0 392.0 83.2C390.8 81.5 391.2 82.4 390.6 80.3C390.0 78.3 390.1 79.3 390.2 77.2C390.4 75.1 390.8 75.1 391.1 74.1C391.4 73.1 391.1 74.1 391.1 74.1" stroke="#66441e" stroke-width="1.0"/>
<path d="M367.1 82.1C366.2 82.6 366.0 82.3 364.3 83.6C362.7 84.9 363.3 84.2 362.2 86.0C361.2 87.8 361.5 86.9 361.2 89.0C360.9 91.1 360.9 90.2 361.4 92.2C362.0 94.2 361.7 93.3 362.9 95.0C364.1 96.7 363.4 96.0 365.1 97.3C366.7 98.6 365.9 98.1 367.8 99.0C369.7 99.9 369.3 99.5 370.8 100.1C372.3 100.6 371.8 100.4 372.3 100.6" stroke="#a88458" stroke-width="0.9"/>
<path d="M409.5 86.3C410.1 87.2 409.9 87.3 411.3 88.9C412.7 90.5 412.2 89.5 413.7 91.0C415.3 92.4 415.0 91.4 416.0 93.2C417.0 95.0 416.8 94.2 416.8 96.3C416.7 98.3 416.7 97.4 415.9 99.3C415.1 101.3 414.9 101.2 414.4 102.1C413.9 103.1 414.4 102.1 414.4 102.1" stroke="#8c6236" stroke-width="1.1"/>
<path d="M376.9 99.3C375.9 99.3 375.9 99.1 373.7 99.3C371.6 99.6 372.7 99.5 370.6 99.9C368.5 100.4 369.6 100.2 367.5 100.8C365.5 101.4 366.5 101.7 364.5 101.8C362.4 101.8 363.0 102.2 361.4 101.0C359.8 99.9 360.1 100.3 359.7 98.4C359.4 96.5 359.5 97.2 360.3 95.3C361.2 93.4 361.6 93.6 362.2 92.7C362.9 91.9 362.2 92.7 362.2 92.7" stroke="#8c6236" stroke-width="1.1"/>
<path d="M409.5 91.7C410.1 90.8 410.4 90.9 411.2 89.0C412.0 87.0 411.6 88.0 411.9 85.9C412.2 83.8 411.9 84.8 412.2 82.7C412.6 80.6 412.1 81.5 412.9 79.6C413.8 77.7 413.4 78.6 414.7 76.9C416.1 75.3 415.8 76.4 416.9 74.7C418.0 72.9 417.6 72.6 418.0 71.6C418.3 70.6 418.0 71.6 418.0 71.6" stroke="#9a7444" stroke-width="0.8"/>
<path d="M375.2 71.4C375.6 72.3 375.7 72.3 376.4 74.3C377.2 76.3 376.8 75.3 377.4 77.4C378.0 79.4 377.6 78.4 378.3 80.4C379.0 82.5 378.7 81.4 379.5 83.4C380.2 85.4 379.6 84.5 380.4 86.5C381.3 88.4 380.7 87.6 382.1 89.2C383.5 90.7 383.3 90.2 384.6 91.1C385.9 92.1 385.5 91.7 386.0 91.9" stroke="#66441e" stroke-width="1.0"/>
<path d="M397.1 88.4C397.6 87.5 397.6 87.5 398.6 85.6C399.5 83.7 398.8 84.5 399.9 82.7C400.9 80.8 400.2 81.5 401.7 80.1C403.2 78.6 402.5 79.3 404.4 78.3C406.2 77.3 405.3 77.9 407.3 77.1C409.3 76.4 408.5 77.1 410.3 76.1C412.2 75.1 412.0 74.8 412.9 74.2C413.7 73.5 412.9 74.2 412.9 74.2" stroke="#8c6236" stroke-width="1.1"/>
<path d="M396.1 77.1C396.9 77.8 396.9 77.7 398.6 79.1C400.2 80.5 399.5 79.7 401.0 81.2C402.4 82.7 401.9 81.9 402.9 83.7C404.0 85.5 403.6 84.6 404.0 86.7C404.5 88.8 404.4 87.8 404.3 89.9C404.2 92.0 404.1 91.5 403.7 93.0C403.4 94.6 403.3 94.0 403.1 94.5" stroke="#855a2e" stroke-width="1.1"/>
<path d="M392.9 87.8C393.8 88.3 393.9 88.2 395.7 89.3C397.6 90.4 396.8 89.6 398.4 91.0C400.1 92.3 399.5 91.5 400.6 93.3C401.7 95.1 401.4 94.2 401.8 96.3C402.1 98.3 402.1 97.4 401.7 99.5C401.4 101.5 401.7 100.6 400.6 102.5C399.6 104.3 400.2 103.5 398.7 105.0C397.2 106.5 397.5 106.0 396.1 106.8C394.7 107.6 395.1 107.2 394.6 107.4" stroke="#66441e" stroke-width="0.9"/>
<path d="M394.2 62.3C394.2 61.2 394.4 61.2 394.2 59.1C394.0 57.0 394.6 57.7 393.6 56.0C392.5 54.3 392.9 55.0 391.1 54.1C389.2 53.1 390.1 53.5 388.0 53.0C386.0 52.6 387.0 52.7 384.9 52.7C382.8 52.7 383.8 52.7 381.7 53.1C379.6 53.6 379.6 53.7 378.6 54.0C377.6 54.3 378.6 54.0 378.6 54.0" stroke="#9a7444" stroke-width="1.1"/>
<path d="M388.4 87.3C388.1 88.3 388.3 88.4 387.5 90.4C386.6 92.3 387.2 91.5 385.8 93.1C384.4 94.6 385.1 94.1 383.2 95.0C381.3 95.9 382.2 95.6 380.1 95.8C378.1 95.9 379.0 96.1 377.0 95.4C375.0 94.8 375.1 94.4 374.2 93.9C373.3 93.4 374.2 93.9 374.2 93.9" stroke="#a88458" stroke-width="1.0"/>
<path d="M371.5 81.9C370.5 82.4 370.6 82.5 368.7 83.4C366.7 84.3 367.7 83.9 365.7 84.6C363.7 85.2 364.7 85.1 362.6 85.3C360.5 85.5 361.2 86.0 359.4 85.2C357.6 84.3 358.0 84.7 357.3 82.8C356.7 81.0 357.0 81.7 357.5 79.7C357.9 77.6 357.7 78.6 358.7 76.7C359.8 74.9 359.9 75.0 360.5 74.1C361.1 73.2 360.5 74.1 360.5 74.1" stroke="#a88458" stroke-width="1.0"/>
<path d="M379.3 80.4C379.6 81.4 379.6 81.4 380.3 83.5C380.9 85.5 380.4 84.6 381.1 86.5C381.8 88.5 381.4 87.6 382.4 89.5C383.5 91.3 382.8 90.6 384.3 92.0C385.8 93.5 386.0 93.3 386.9 93.9C387.7 94.5 386.9 93.9 386.9 93.9" stroke="#8c6236" stroke-width="0.9"/>
<path d="M376.4 77.8C375.3 77.6 375.3 77.8 373.2 77.3C371.2 76.8 372.2 77.1 370.2 76.3C368.2 75.5 369.1 76.0 367.3 74.9C365.6 73.7 365.7 73.5 364.9 72.8C364.1 72.1 364.9 72.8 364.9 72.8" stroke="#744c22" stroke-width="0.9"/>
<path d="M399.7 89.0C400.2 89.9 400.2 89.9 401.4 91.7C402.5 93.5 402.2 92.5 403.1 94.4C404.0 96.3 403.6 95.3 404.1 97.4C404.5 99.5 404.3 99.0 404.5 100.6C404.7 102.2 404.6 101.7 404.7 102.2" stroke="#8c6236" stroke-width="0.9"/>
<path d="M369.9 78.3C370.9 77.9 370.9 77.9 372.9 77.1C374.9 76.3 373.8 76.6 375.8 75.8C377.8 75.0 377.0 75.7 378.8 74.7C380.7 73.8 379.8 74.2 381.4 72.9C383.1 71.5 382.1 72.0 383.7 70.7C385.4 69.3 384.5 69.9 386.3 68.8C388.1 67.7 387.7 67.9 389.1 67.3C390.6 66.6 390.2 67.0 390.7 66.9" stroke="#66441e" stroke-width="0.8"/>
<path d="M402.1 103.7C403.1 103.3 403.2 103.4 405.1 102.5C407.0 101.5 406.2 102.2 407.9 100.9C409.5 99.5 408.9 100.3 409.9 98.5C411.0 96.7 410.7 97.5 410.9 95.4C411.2 93.4 411.2 94.3 410.6 92.3C410.1 90.2 410.5 91.1 409.3 89.4C408.1 87.7 408.3 88.1 407.0 87.1C405.8 86.1 406.1 86.6 405.6 86.4" stroke="#9a7444" stroke-width="0.8"/>
<path d="M377.2 75.8C377.5 74.8 377.4 74.7 378.1 72.7C378.8 70.7 378.5 71.7 379.3 69.7C380.1 67.8 379.8 68.8 380.5 66.8C381.3 64.8 381.2 65.8 381.4 63.7C381.6 61.7 381.9 62.4 381.1 60.6C380.4 58.7 380.9 58.8 379.3 58.2C377.6 57.7 377.8 57.9 376.2 59.0C374.6 60.1 375.1 60.8 374.5 61.6C374.0 62.5 374.5 61.6 374.5 61.6" stroke="#7c5228" stroke-width="0.9"/>
<path d="M396.0 97.3C396.4 96.3 396.6 96.3 397.2 94.3C397.8 92.3 397.6 93.3 397.8 91.2C398.0 89.1 397.9 90.1 397.9 88.0C397.9 85.9 397.9 86.9 397.7 84.8C397.5 82.7 397.8 83.7 397.2 81.6C396.6 79.6 396.4 79.7 395.9 78.7C395.5 77.7 395.9 78.7 395.9 78.7" stroke="#9a7444" stroke-width="1.1"/>
<path d="M376.8 91.7C377.0 92.7 376.9 92.7 377.4 94.8C377.9 96.9 377.7 95.8 378.3 97.9C378.9 99.9 378.6 98.9 379.2 100.9C379.8 103.0 379.5 102.0 380.1 104.0C380.6 106.1 380.5 105.6 380.9 107.1C381.4 108.7 381.2 108.1 381.3 108.7" stroke="#855a2e" stroke-width="0.9"/>
<path d="M366.3 95.9C366.8 96.8 366.6 97.0 367.7 98.8C368.8 100.6 368.1 99.9 369.7 101.3C371.2 102.7 370.4 102.2 372.4 103.0C374.3 103.7 373.4 103.6 375.5 103.6C377.6 103.5 376.7 103.7 378.6 102.9C380.6 102.2 379.6 102.5 381.4 101.3C383.2 100.2 383.1 100.1 384.0 99.4C384.9 98.8 384.0 99.4 384.0 99.4" stroke="#9a7444" stroke-width="0.8"/>
<path d="M382.1 69.2C382.6 68.3 382.7 68.3 383.6 66.4C384.6 64.5 384.1 65.4 384.9 63.5C385.8 61.5 385.4 62.5 386.1 60.5C386.8 58.5 386.0 59.2 387.0 57.4C388.1 55.7 387.5 56.2 389.3 55.2C391.0 54.2 390.3 54.5 392.3 54.5C394.4 54.5 393.6 54.3 395.4 55.3C397.3 56.2 396.8 56.2 397.9 57.3C398.9 58.4 398.4 58.2 398.7 58.7" stroke="#66441e" stroke-width="1.1"/>
<path d="M402.3 92.9C402.0 93.9 402.4 94.1 401.4 95.9C400.5 97.8 401.0 97.0 399.5 98.5C398.0 99.9 398.7 99.2 396.9 100.4C395.1 101.5 396.0 100.9 394.1 101.8C392.1 102.7 393.0 102.2 391.2 103.2C389.3 104.1 390.0 103.4 388.4 104.7C386.8 106.1 387.3 105.3 386.3 107.2C385.3 109.0 385.6 108.6 385.3 110.2C384.9 111.7 385.2 111.2 385.2 111.8" stroke="#80552a" stroke-width="0.8"/>
<path d="M408.1 76.6C408.0 77.6 407.9 77.6 407.8 79.7C407.8 81.9 407.5 80.9 407.9 82.9C408.3 85.0 408.0 84.2 409.1 85.9C410.2 87.7 409.6 87.0 411.3 88.2C413.0 89.4 412.1 89.0 414.1 89.6C416.2 90.2 415.5 90.6 417.3 90.0C419.1 89.4 418.9 89.5 419.4 87.8C420.0 86.0 419.4 86.1 418.8 84.7C418.3 83.3 418.1 83.9 417.7 83.6" stroke="#66441e" stroke-width="1.1"/>
<path d="M400.4 106.1C401.4 105.8 401.4 105.6 403.5 105.2C405.6 104.7 404.6 104.7 406.7 104.8C408.7 104.9 407.7 105.5 409.8 105.5C411.8 105.5 411.0 105.8 412.8 104.8C414.7 103.9 413.8 104.2 415.2 102.6C416.6 101.0 416.4 100.9 417.0 100.0C417.7 99.2 417.0 100.0 417.0 100.0" stroke="#7c5228" stroke-width="1.1"/>
<path d="M405.8 92.3C406.8 91.9 406.9 92.1 408.8 91.1C410.7 90.1 409.9 90.8 411.5 89.4C413.1 88.0 412.5 88.8 413.5 86.9C414.4 85.0 414.1 85.9 414.3 83.8C414.5 81.7 414.2 82.8 414.1 80.6C413.9 78.5 413.7 79.5 413.9 77.5C414.0 75.4 414.3 76.4 414.6 74.4C414.9 72.3 415.1 73.2 414.9 71.2C414.6 69.1 414.1 69.2 413.8 68.2C413.4 67.2 413.8 68.2 413.8 68.2" stroke="#855a2e" stroke-width="1.1"/>
<path d="M374.2 72.2C374.3 71.2 374.7 71.1 374.4 69.0C374.1 67.0 374.4 67.8 373.3 66.0C372.3 64.3 372.9 64.2 371.2 63.7C369.5 63.2 369.5 63.8 368.2 64.4C366.9 65.1 367.5 65.2 367.2 65.7" stroke="#855a2e" stroke-width="0.8"/>
<path d="M367.9 73.1C366.9 73.2 366.9 73.3 364.8 73.4C362.6 73.4 363.6 72.9 361.6 73.3C359.6 73.7 360.4 73.3 358.7 74.6C357.0 75.8 357.6 75.2 356.6 77.0C355.5 78.7 355.8 77.9 355.5 79.9C355.1 82.0 355.4 81.5 355.5 83.1C355.6 84.7 355.7 84.2 355.7 84.7" stroke="#855a2e" stroke-width="1.0"/>
<path d="M374.7 89.0C374.8 90.1 374.6 90.2 375.0 92.2C375.4 94.3 375.1 93.3 375.9 95.3C376.7 97.2 376.2 96.4 377.5 98.0C378.8 99.7 378.1 99.0 379.8 100.3C381.5 101.5 381.7 101.3 382.6 101.8C383.5 102.3 382.6 101.8 382.6 101.8" stroke="#855a2e" stroke-width="0.8"/>
<path d="M407.3 88.9C406.5 88.1 406.3 88.3 405.0 86.6C403.7 84.9 404.1 85.8 403.4 83.9C402.7 81.9 402.8 82.8 402.9 80.7C402.9 78.6 402.7 79.5 403.6 77.6C404.4 75.7 404.0 76.6 405.4 75.0C406.8 73.4 407.0 73.6 407.8 72.8C408.5 72.1 407.8 72.8 407.8 72.8" stroke="#855a2e" stroke-width="1.1"/>
<path d="M366.9 83.9C367.0 82.8 366.7 82.7 367.2 80.7C367.7 78.6 367.3 79.5 368.4 77.7C369.5 75.9 368.9 76.7 370.4 75.3C372.0 73.8 371.1 74.3 373.0 73.4C374.9 72.4 374.0 72.7 376.1 72.5C378.1 72.3 377.2 72.2 379.2 72.8C381.2 73.4 380.4 73.0 382.1 74.3C383.7 75.6 383.4 75.9 384.1 76.7C384.8 77.5 384.1 76.7 384.1 76.7" stroke="#66441e" stroke-width="1.0"/>
<path d="M385.0 100.9C384.4 101.8 384.4 101.8 383.0 103.4C381.6 105.0 382.4 104.4 380.9 105.8C379.4 107.3 380.1 106.6 378.4 107.8C376.6 109.0 377.5 108.5 375.6 109.4C373.7 110.2 374.5 110.3 372.5 110.3C370.5 110.2 371.1 110.4 369.6 109.1C368.2 107.8 368.7 107.2 368.2 106.3C367.8 105.4 368.2 106.3 368.2 106.3" stroke="#9a7444" stroke-width="1.1"/>
<path d="M393.3 102.2C394.1 101.5 394.1 101.5 395.7 100.0C397.2 98.6 396.3 99.1 397.9 97.8C399.6 96.5 398.7 96.8 400.6 96.0C402.5 95.3 402.7 95.7 403.7 95.5C404.8 95.3 403.7 95.5 403.7 95.5" stroke="#7c5228" stroke-width="0.9"/>
<path d="M376.3 101.6C375.7 102.4 375.5 102.3 374.3 104.1C373.2 105.8 373.7 104.9 372.8 106.8C371.9 108.8 371.8 107.8 371.7 109.8C371.5 111.9 371.5 111.1 372.4 112.9C373.3 114.8 372.8 114.0 374.3 115.5C375.9 116.9 375.1 116.3 376.9 117.3C378.8 118.3 377.9 117.9 379.9 118.5C381.9 119.2 380.9 119.0 383.0 119.2C385.1 119.3 385.1 119.1 386.2 119.0C387.3 118.9 386.2 119.0 386.2 119.0" stroke="#855a2e" stroke-width="1.0"/>
<path d="M407.0 101.7C407.0 100.6 406.7 100.6 406.8 98.5C406.8 96.4 406.8 97.4 407.1 95.3C407.4 93.2 407.4 94.3 407.7 92.2C408.0 90.1 408.0 91.1 408.0 89.0C408.1 86.9 408.1 87.9 407.8 85.8C407.5 83.7 407.5 84.8 407.1 82.7C406.8 80.6 407.1 81.6 406.6 79.5C406.2 77.4 406.1 77.4 405.8 76.4C405.5 75.4 405.8 76.4 405.8 76.4" stroke="#855a2e" stroke-width="1.0"/>
<path d="M365.6 78.4C365.0 79.2 364.7 79.1 363.8 80.9C362.8 82.8 363.4 81.9 362.7 84.0C362.0 86.0 362.5 85.0 361.7 87.0C360.9 89.0 360.8 88.4 360.3 89.9C359.9 91.4 360.3 91.0 360.3 91.5" stroke="#8c6236" stroke-width="0.9"/>
<path d="M370.6 84.2C371.6 84.6 371.7 84.4 373.6 85.4C375.4 86.4 374.7 85.7 376.1 87.3C377.5 88.8 377.0 88.0 377.8 90.0C378.5 91.9 378.1 91.6 378.4 93.1C378.6 94.7 378.5 94.2 378.6 94.7" stroke="#855a2e" stroke-width="0.9"/>
<path d="M387.8 94.3C388.6 93.6 388.8 93.8 390.2 92.2C391.6 90.6 390.9 91.3 391.9 89.5C393.0 87.6 392.3 88.5 393.4 86.6C394.4 84.8 394.0 85.7 395.0 83.9C396.1 82.1 395.6 83.0 396.6 81.1C397.5 79.2 396.9 80.1 398.0 78.2C399.1 76.4 399.2 76.5 399.8 75.6C400.4 74.7 399.8 75.6 399.8 75.6" stroke="#66441e" stroke-width="0.9"/>
<path d="M368.7 71.4C367.7 71.5 367.5 71.1 365.6 71.9C363.6 72.6 364.0 72.0 363.0 73.5C361.9 75.1 362.6 74.5 362.4 76.6C362.1 78.7 362.1 77.8 362.4 79.8C362.6 81.9 362.3 81.0 363.2 82.9C364.1 84.8 363.7 83.9 365.1 85.5C366.5 87.1 365.7 86.5 367.5 87.6C369.2 88.7 368.4 88.4 370.4 88.8C372.5 89.2 372.6 88.8 373.6 88.7C374.7 88.7 373.6 88.7 373.6 88.7" stroke="#8c6236" stroke-width="1.1"/>
<path d="M367.2 97.7C366.2 97.4 366.2 97.1 364.1 96.9C362.0 96.6 363.0 97.2 360.9 96.9C358.8 96.5 359.7 96.9 357.9 95.8C356.1 94.7 356.8 95.3 355.5 93.7C354.2 92.1 354.6 92.9 353.9 90.9C353.3 89.0 353.7 88.8 353.5 87.8C353.4 86.7 353.5 87.8 353.5 87.8" stroke="#9a7444" stroke-width="0.9"/>
<path d="M375.6 103.5C374.8 104.2 374.8 104.2 373.2 105.6C371.7 107.1 372.0 106.2 370.9 107.9C369.9 109.6 369.6 109.0 370.0 110.8C370.3 112.6 370.3 112.1 372.0 113.2C373.7 114.2 373.1 114.0 375.1 113.9C377.1 113.7 376.4 113.9 378.1 112.7C379.8 111.5 379.1 112.1 380.2 110.4C381.4 108.6 381.1 109.5 381.6 107.5C382.2 105.5 381.8 105.4 381.9 104.3C382.0 103.2 381.9 104.3 381.9 104.3" stroke="#7c5228" stroke-width="0.8"/>
<path d="M386.7 76.8C387.7 77.1 387.7 77.0 389.8 77.6C391.8 78.2 390.8 77.9 392.8 78.6C394.8 79.3 394.0 78.7 395.8 79.7C397.7 80.7 396.9 80.1 398.4 81.6C399.8 83.1 399.1 82.4 400.2 84.2C401.3 86.0 400.8 85.1 401.6 87.1C402.4 89.1 402.1 88.6 402.6 90.1C403.0 91.7 402.8 91.2 403.0 91.7" stroke="#66441e" stroke-width="1.1"/>
<path d="M406.0 70.5C406.9 71.2 406.7 71.3 408.5 72.6C410.2 73.8 409.3 73.2 411.2 74.2C413.1 75.2 412.3 74.5 414.2 75.4C416.1 76.4 415.6 75.5 416.9 76.9C418.3 78.4 417.7 78.3 418.2 79.8C418.7 81.3 418.3 80.9 418.3 81.4" stroke="#8c6236" stroke-width="0.9"/>
<path d="M379.4 78.8C379.0 77.8 378.9 77.8 378.1 75.8C377.4 73.9 377.6 74.9 377.1 72.8C376.5 70.8 376.5 71.8 376.5 69.7C376.4 67.6 376.3 68.6 376.9 66.5C377.6 64.5 377.1 65.4 378.3 63.7C379.5 61.9 379.8 62.1 380.5 61.3C381.2 60.6 380.5 61.3 380.5 61.3" stroke="#a88458" stroke-width="1.1"/>
<path d="M405.5 100.6C405.1 99.6 404.7 99.7 404.4 97.7C404.0 95.6 404.2 96.6 404.5 94.5C404.7 92.4 404.5 93.4 405.2 91.4C405.8 89.3 405.3 90.2 406.3 88.4C407.4 86.5 406.7 87.2 408.3 85.9C409.8 84.5 409.1 84.9 411.0 84.2C413.0 83.5 412.0 83.8 414.2 83.6C416.3 83.5 415.9 83.4 417.3 83.9C418.8 84.3 418.1 84.6 418.5 85.0" stroke="#66441e" stroke-width="1.1"/>
<path d="M380.8 65.9C381.1 64.9 381.3 65.0 381.8 62.9C382.3 60.9 381.8 61.8 382.3 59.8C382.8 57.7 382.0 58.3 383.2 56.8C384.4 55.2 384.0 55.7 385.9 55.0C387.8 54.3 387.0 54.4 389.0 54.7C391.1 54.9 390.3 54.5 392.1 55.6C393.8 56.7 393.3 56.7 394.2 58.0C395.1 59.2 394.6 59.0 394.8 59.5" stroke="#9a7444" stroke-width="1.1"/>
<path d="M396.0 99.3C396.9 99.8 396.9 99.9 398.8 100.8C400.7 101.7 399.7 101.4 401.8 102.0C403.8 102.6 402.8 102.5 404.9 102.6C407.0 102.7 406.0 102.7 408.1 102.2C410.1 101.6 409.2 102.0 411.0 100.9C412.8 99.8 412.1 100.5 413.4 98.9C414.8 97.3 414.5 97.6 415.1 96.1C415.6 94.7 415.1 95.1 415.1 94.5" stroke="#7c5228" stroke-width="1.1"/>
<path d="M398.7 104.4C397.9 103.6 397.9 103.7 396.5 102.1C395.1 100.5 395.9 101.1 394.4 99.7C392.8 98.2 393.7 98.7 391.8 97.8C389.9 96.9 390.8 97.2 388.7 97.0C386.6 96.9 387.5 96.7 385.5 97.3C383.5 97.9 384.0 97.9 382.7 98.8C381.4 99.6 381.9 99.5 381.6 99.9" stroke="#a88458" stroke-width="0.9"/>
<path d="M383.5 84.4C382.5 84.5 382.5 84.6 380.4 84.8C378.2 85.0 379.3 85.0 377.2 84.9C375.0 84.8 376.0 85.1 374.0 84.5C372.0 83.9 372.9 84.3 371.2 83.1C369.5 81.9 370.4 82.4 368.9 80.8C367.4 79.3 368.2 80.0 366.7 78.5C365.3 76.9 365.9 77.8 364.6 76.1C363.2 74.5 363.3 75.4 362.8 73.4C362.4 71.5 363.1 71.4 363.3 70.4C363.5 69.3 363.3 70.4 363.3 70.4" stroke="#80552a" stroke-width="1.1"/>
<path d="M396.0 74.6C396.1 75.7 396.5 75.7 396.4 77.8C396.4 79.9 396.6 79.0 395.8 80.9C395.0 82.8 395.4 81.9 394.1 83.6C392.7 85.2 393.5 84.5 391.8 85.8C390.1 87.1 390.9 86.5 389.0 87.4C387.1 88.4 388.1 88.0 386.1 88.6C384.0 89.2 384.5 88.9 382.9 89.2C381.3 89.5 381.9 89.4 381.3 89.5" stroke="#7c5228" stroke-width="1.1"/>
<path d="M405.4 80.2C404.3 80.4 404.3 80.1 402.2 80.6C400.2 81.1 401.1 80.7 399.3 81.8C397.5 82.9 398.2 82.3 396.8 83.9C395.5 85.5 395.9 84.7 395.2 86.6C394.6 88.6 395.0 88.8 394.8 89.8C394.7 90.9 394.8 89.8 394.8 89.8" stroke="#a88458" stroke-width="0.8"/>
<path d="M401.3 66.5C401.5 65.5 401.6 65.5 401.9 63.4C402.2 61.3 402.8 62.1 402.3 60.2C401.7 58.4 402.0 59.0 400.3 57.8C398.7 56.6 399.4 57.0 397.3 56.7C395.3 56.3 396.2 56.3 394.1 56.7C392.1 57.2 392.6 57.3 391.3 58.1C389.9 58.9 390.5 58.8 390.1 59.2" stroke="#9a7444" stroke-width="1.0"/>
<path d="M371.0 81.5C370.1 82.0 370.0 81.9 368.3 83.1C366.5 84.3 367.3 83.7 365.8 85.2C364.4 86.7 365.1 85.9 363.8 87.6C362.5 89.3 363.2 88.5 362.0 90.3C360.8 92.0 360.7 91.0 360.2 92.9C359.7 94.9 359.6 94.2 360.3 96.1C361.1 97.9 361.7 97.7 362.4 98.5C363.1 99.3 362.4 98.5 362.4 98.5" stroke="#80552a" stroke-width="1.1"/>
<path d="M392.4 107.8C392.1 106.8 391.9 106.8 391.6 104.7C391.2 102.6 391.5 103.6 391.4 101.5C391.4 99.4 391.6 100.4 391.5 98.3C391.4 96.2 391.4 97.3 391.2 95.1C390.9 93.0 390.9 93.0 390.8 92.0C390.6 90.9 390.8 92.0 390.8 92.0" stroke="#9a7444" stroke-width="1.1"/>
<path d="M388.4 94.1C387.4 93.9 387.4 93.8 385.3 93.6C383.2 93.3 384.2 93.2 382.1 93.5C380.0 93.7 380.9 93.4 379.0 94.2C377.1 95.1 377.8 94.5 376.3 96.0C374.9 97.5 375.4 97.3 374.6 98.7C373.8 100.0 374.2 99.7 374.0 100.2" stroke="#8c6236" stroke-width="1.0"/>
<path d="M406.3 81.8C405.2 81.9 405.2 82.0 403.1 82.1C400.9 82.2 402.0 82.0 399.9 82.2C397.8 82.5 398.8 82.2 396.7 82.8C394.7 83.5 395.5 82.9 393.8 84.1C392.1 85.3 393.0 84.8 391.5 86.3C390.1 87.9 390.6 87.0 389.5 88.8C388.5 90.7 388.8 90.3 388.3 91.8C387.7 93.3 388.0 92.8 387.9 93.3" stroke="#8c6236" stroke-width="1.0"/>
<path d="M401.8 72.6C402.7 72.0 402.7 72.0 404.5 70.8C406.2 69.6 405.3 70.0 407.1 68.9C408.9 67.8 408.0 67.8 409.9 67.5C411.9 67.3 411.6 67.0 413.0 68.2C414.4 69.4 414.0 69.1 414.2 71.1C414.3 73.1 414.1 72.1 413.4 74.2C412.8 76.2 413.1 75.2 412.2 77.1C411.4 79.1 411.5 78.6 410.8 80.0C410.0 81.3 410.2 80.8 409.9 81.3" stroke="#9a7444" stroke-width="0.9"/>
<path d="M394.5 102.2C394.8 101.2 395.1 101.2 395.3 99.1C395.5 97.0 395.7 97.9 395.1 95.9C394.6 93.9 394.9 94.8 393.7 93.1C392.5 91.4 393.2 92.0 391.4 90.8C389.7 89.7 390.5 90.2 388.5 89.5C386.5 88.8 387.5 89.3 385.5 88.7C383.4 88.0 383.5 87.9 382.5 87.5C381.5 87.2 382.5 87.5 382.5 87.5" stroke="#80552a" stroke-width="0.8"/>
<path d="M406.3 85.7C405.2 85.8 405.2 85.9 403.1 86.0C401.0 86.1 402.0 86.3 399.9 86.0C397.9 85.6 398.7 86.0 396.9 84.9C395.1 83.9 395.6 83.9 394.5 82.8C393.4 81.7 393.9 82.0 393.6 81.5" stroke="#8c6236" stroke-width="0.9"/>
<path d="M374.7 83.8C375.4 84.6 375.4 84.6 376.8 86.2C378.2 87.8 377.6 86.9 378.8 88.7C380.0 90.4 379.4 89.6 380.4 91.4C381.4 93.3 380.8 92.4 381.8 94.3C382.9 96.2 382.3 95.3 383.5 97.0C384.7 98.8 384.2 97.8 385.4 99.6C386.5 101.4 386.4 101.5 387.0 102.4C387.5 103.3 387.0 102.4 387.0 102.4" stroke="#744c22" stroke-width="0.9"/>
<path d="M386.0 104.1C385.7 105.1 385.9 105.2 385.0 107.1C384.2 109.0 384.7 108.2 383.4 109.9C382.1 111.5 382.8 110.9 381.0 112.0C379.2 113.0 379.9 113.2 378.0 113.0C376.1 112.8 376.7 112.9 375.3 111.4C374.0 109.9 374.5 110.5 374.1 108.5C373.6 106.4 374.0 106.4 374.0 105.3C374.0 104.2 374.0 105.3 374.0 105.3" stroke="#8c6236" stroke-width="0.9"/>
<path d="M390.4 64.6C389.4 64.6 389.3 64.2 387.2 64.6C385.1 64.9 386.1 64.6 384.2 65.5C382.3 66.5 383.2 66.0 381.6 67.4C380.0 68.8 380.6 68.0 379.4 69.7C378.2 71.5 378.6 70.6 378.1 72.6C377.6 74.7 377.7 73.7 378.0 75.8C378.3 77.9 378.4 77.4 379.0 78.8C379.6 80.3 379.5 79.8 379.8 80.2" stroke="#66441e" stroke-width="0.9"/>
<path d="M392.0 62.1C391.1 61.5 391.0 61.6 389.3 60.4C387.6 59.1 388.5 59.6 386.9 58.3C385.3 56.9 386.3 57.1 384.5 56.3C382.6 55.5 383.4 55.7 381.3 55.9C379.2 56.1 379.3 56.6 378.3 56.9C377.3 57.2 378.3 56.9 378.3 56.9" stroke="#66441e" stroke-width="0.9"/>
<path d="M391.1 69.9C392.0 69.2 392.0 69.2 393.6 67.8C395.1 66.4 394.7 67.3 395.8 65.6C397.0 63.8 396.6 64.7 397.1 62.6C397.6 60.6 397.6 60.9 397.3 59.5C397.1 58.0 396.7 58.6 396.3 58.2" stroke="#9a7444" stroke-width="1.1"/>
<path d="M384.9 103.9C385.9 104.2 385.9 104.6 388.0 104.9C390.0 105.2 389.0 105.1 391.1 104.8C393.3 104.6 392.3 104.9 394.3 104.1C396.3 103.4 395.4 103.9 397.1 102.6C398.7 101.3 398.2 101.5 399.1 100.2C400.0 98.9 399.6 99.2 399.8 98.7" stroke="#80552a" stroke-width="0.9"/>
<path d="M378.4 105.8C377.7 104.9 377.9 104.7 376.4 103.3C374.9 101.8 375.7 102.3 373.8 101.4C371.9 100.5 372.8 100.8 370.7 100.6C368.7 100.5 369.5 100.4 367.6 101.1C365.6 101.7 365.7 101.1 364.8 102.7C363.9 104.2 364.8 104.7 364.8 105.8C364.8 106.8 364.8 105.8 364.8 105.8" stroke="#a88458" stroke-width="0.8"/>
<path d="M372.3 72.1C372.1 73.2 371.7 73.1 371.6 75.2C371.4 77.3 371.4 76.3 371.8 78.4C372.3 80.5 372.0 79.5 372.9 81.4C373.8 83.3 373.7 82.8 374.6 84.1C375.5 85.4 375.3 85.0 375.6 85.4" stroke="#a88458" stroke-width="0.9"/>
<path d="M371.8 70.8C370.7 70.8 370.7 71.1 368.6 70.8C366.5 70.5 367.6 70.1 365.5 69.9C363.4 69.8 364.2 69.5 362.4 70.3C360.5 71.1 361.0 71.2 360.0 72.4C358.9 73.5 359.5 73.3 359.3 73.8" stroke="#8c6236" stroke-width="1.0"/>
<path d="M390.9 71.2C392.0 71.0 392.1 71.4 394.1 70.7C396.0 69.9 395.2 70.4 396.8 69.0C398.3 67.6 397.7 68.3 398.7 66.4C399.6 64.5 399.2 65.4 399.6 63.4C399.9 61.3 400.0 61.6 399.7 60.2C399.4 58.7 399.0 59.4 398.7 58.9" stroke="#744c22" stroke-width="1.0"/>
<path d="M375.9 103.5C374.9 103.8 375.0 104.0 372.9 104.4C370.8 104.8 371.8 104.6 369.7 104.8C367.6 104.9 368.5 105.3 366.5 104.8C364.5 104.4 365.1 104.8 363.7 103.3C362.3 101.9 362.5 102.5 362.2 100.6C361.8 98.6 362.0 99.5 362.6 97.4C363.2 95.4 363.0 96.4 363.9 94.5C364.9 92.6 364.7 93.1 365.5 91.8C366.4 90.4 366.2 90.9 366.5 90.5" stroke="#9a7444" stroke-width="0.8"/>
<path d="M409.8 89.1C410.0 90.1 409.9 90.2 410.4 92.2C410.9 94.3 410.9 93.2 411.3 95.3C411.8 97.4 411.8 96.3 411.8 98.4C411.7 100.5 411.9 99.6 411.1 101.5C410.2 103.5 410.6 102.6 409.2 104.1C407.8 105.7 407.6 105.6 406.8 106.3C406.0 107.0 406.8 106.3 406.8 106.3" stroke="#8c6236" stroke-width="0.9"/>
<path d="M364.7 88.5C365.3 89.4 365.5 89.3 366.3 91.2C367.2 93.2 366.9 92.2 367.4 94.3C367.8 96.3 367.8 95.4 367.6 97.5C367.4 99.5 367.6 98.6 366.7 100.5C365.8 102.4 365.8 101.3 364.9 103.1C364.0 105.0 363.9 104.2 364.0 106.2C364.1 108.1 364.4 107.7 365.2 109.0C366.1 110.4 366.0 109.8 366.4 110.1" stroke="#80552a" stroke-width="0.8"/>
<path d="M382.7 103.3C382.2 104.2 382.1 104.2 381.0 106.0C379.9 107.8 380.5 106.9 379.4 108.8C378.3 110.6 379.1 109.9 377.8 111.6C376.6 113.2 377.4 113.1 375.6 113.7C373.8 114.3 374.4 114.0 372.5 113.3C370.5 112.7 371.4 113.0 369.7 111.7C368.0 110.5 368.7 111.2 367.3 109.6C366.0 108.0 366.2 107.8 365.7 106.9C365.1 106.0 365.7 106.9 365.7 106.9" stroke="#80552a" stroke-width="1.1"/>
<path d="M378.9 108.0C379.9 108.6 379.7 108.9 381.7 109.7C383.7 110.4 382.7 110.2 384.8 110.2C386.9 110.3 386.0 110.4 388.0 109.8C390.0 109.2 389.2 109.6 390.8 108.3C392.4 107.0 391.7 107.6 392.9 105.9C394.1 104.1 393.7 104.5 394.3 103.0C394.9 101.6 394.6 102.0 394.7 101.5" stroke="#9a7444" stroke-width="1.1"/>
<path d="M387.1 96.9C387.2 97.9 386.9 98.0 387.5 100.0C388.0 102.1 387.6 101.2 388.8 102.9C390.0 104.6 389.4 103.9 391.1 105.2C392.8 106.4 392.4 106.0 393.8 106.8C395.2 107.5 394.8 107.2 395.3 107.4" stroke="#7c5228" stroke-width="1.1"/>
<path d="M403.7 71.0C402.8 71.5 402.8 71.6 400.9 72.5C399.0 73.5 399.9 72.9 398.0 73.8C396.1 74.7 397.0 74.2 395.1 75.3C393.2 76.3 394.2 75.8 392.4 76.9C390.5 77.9 391.0 77.6 389.5 78.4C388.1 79.1 388.6 78.9 388.1 79.1" stroke="#7c5228" stroke-width="1.1"/>
<path d="M398.0 67.9C399.0 68.3 399.0 68.5 401.0 69.2C403.0 69.9 402.0 69.5 404.1 69.9C406.2 70.3 405.1 70.1 407.3 70.4C409.4 70.7 408.3 70.5 410.4 70.8C412.6 71.0 411.7 70.3 413.6 71.1C415.5 71.9 414.9 71.4 416.1 73.1C417.2 74.7 416.8 75.1 417.1 76.1C417.5 77.1 417.1 76.1 417.1 76.1" stroke="#7c5228" stroke-width="0.9"/>
<path d="M411.7 96.1C411.5 97.2 411.8 97.3 411.3 99.3C410.8 101.4 411.2 100.5 410.2 102.3C409.1 104.1 409.7 103.4 408.0 104.7C406.4 105.9 407.2 105.5 405.2 106.1C403.2 106.7 404.1 106.7 402.0 106.5C400.0 106.3 400.9 106.5 399.0 105.6C397.0 104.8 397.5 104.9 396.2 104.0C394.9 103.1 395.4 103.3 395.0 102.9" stroke="#9a7444" stroke-width="1.0"/>
<path d="M393.4 74.9C393.8 75.8 394.2 75.8 394.7 77.8C395.2 79.8 395.0 78.9 394.8 81.0C394.7 83.1 394.9 82.1 394.4 84.1C393.8 86.2 394.1 85.2 393.1 87.1C392.0 88.9 392.3 87.9 391.2 89.7C390.1 91.5 390.4 90.5 389.7 92.5C389.0 94.4 389.3 93.5 389.1 95.6C389.0 97.7 389.3 97.7 389.3 98.8C389.4 99.9 389.3 98.8 389.3 98.8" stroke="#8c6236" stroke-width="0.9"/>
<path d="M384.3 102.7C385.2 103.4 385.0 103.6 386.8 104.7C388.6 105.8 387.7 105.6 389.7 106.1C391.7 106.6 390.8 106.4 392.9 106.3C395.0 106.1 394.0 106.2 396.0 105.6C398.0 105.0 397.1 105.4 399.0 104.5C400.9 103.5 400.2 104.1 401.6 102.6C403.1 101.1 402.6 101.4 403.3 100.0C404.1 98.6 403.6 98.9 403.8 98.4" stroke="#855a2e" stroke-width="1.1"/>
<path d="M388.1 99.4C387.3 100.0 387.1 99.8 385.5 101.2C383.9 102.6 384.7 101.9 383.4 103.6C382.1 105.2 382.9 104.5 381.5 106.2C380.2 107.8 380.8 106.9 379.3 108.4C377.8 109.9 378.7 109.6 377.0 110.7C375.3 111.8 376.0 112.0 374.2 111.8C372.3 111.6 372.4 110.7 371.6 110.1C370.7 109.5 371.6 110.1 371.6 110.1" stroke="#9a7444" stroke-width="0.9"/>
<path d="M367.1 74.7C367.4 75.7 367.5 75.7 368.1 77.8C368.7 79.8 368.3 78.8 368.9 80.8C369.6 82.9 369.2 81.9 370.0 83.8C370.9 85.8 370.6 84.8 371.4 86.7C372.2 88.7 371.8 87.7 372.5 89.8C373.1 91.8 372.8 90.8 373.2 92.9C373.7 94.9 373.6 93.9 373.9 96.0C374.2 98.1 374.2 97.1 374.1 99.2C374.0 101.3 373.8 101.3 373.7 102.3C373.5 103.4 373.7 102.3 373.7 102.3" stroke="#66441e" stroke-width="0.9"/>
<path d="M403.1 102.8C404.2 102.8 404.2 102.9 406.3 102.8C408.5 102.8 407.4 103.0 409.5 102.7C411.6 102.4 411.1 103.1 412.6 102.0C414.2 100.8 413.8 101.2 414.2 99.3C414.7 97.3 414.3 97.7 414.0 96.1C413.7 94.6 413.6 95.1 413.4 94.6" stroke="#9a7444" stroke-width="1.0"/>
<path d="M408.3 93.4C407.9 92.4 408.0 92.4 407.1 90.4C406.2 88.5 406.4 89.6 405.6 87.6C404.8 85.6 405.1 86.6 404.8 84.5C404.6 82.4 404.8 83.5 404.8 81.3C404.9 79.2 404.9 80.3 405.0 78.1C405.2 76.0 405.3 76.5 405.4 75.0C405.6 73.4 405.5 73.9 405.5 73.4" stroke="#a88458" stroke-width="0.9"/>
<path d="M381.5 74.4C380.6 75.1 380.5 74.9 379.0 76.4C377.5 77.9 378.1 77.1 376.9 78.9C375.7 80.6 376.0 79.7 375.4 81.7C374.9 83.7 375.0 82.8 375.1 84.9C375.2 87.0 375.3 85.9 375.7 88.0C376.1 90.1 375.9 89.1 376.3 91.2C376.7 93.3 376.6 92.2 376.9 94.3C377.2 96.4 377.1 95.9 377.2 97.5C377.4 99.1 377.3 98.6 377.3 99.1" stroke="#80552a" stroke-width="1.1"/>
<path d="M395.2 86.7C396.1 86.0 396.4 86.3 397.8 84.8C399.3 83.3 398.6 84.0 399.5 82.2C400.5 80.3 400.0 81.2 400.7 79.2C401.3 77.1 401.1 78.2 401.5 76.1C401.8 74.0 401.9 75.0 401.7 72.9C401.6 70.8 401.8 71.7 400.9 69.8C400.0 67.9 400.5 68.8 399.1 67.2C397.7 65.6 397.5 65.7 396.8 65.0C396.0 64.3 396.8 65.0 396.8 65.0" stroke="#66441e" stroke-width="0.9"/>
<path d="M405.4 77.4C405.8 76.4 405.8 76.4 406.8 74.5C407.7 72.6 407.2 73.5 408.2 71.6C409.1 69.7 408.9 70.7 409.7 68.8C410.4 66.9 410.9 67.5 410.4 65.8C409.9 64.1 409.9 64.6 408.2 63.6C406.4 62.7 406.6 63.2 405.1 63.0C403.5 62.8 404.0 63.0 403.5 63.1" stroke="#855a2e" stroke-width="1.0"/>
<path d="M373.1 92.2C373.6 91.2 373.8 91.3 374.5 89.3C375.2 87.3 374.6 88.2 375.1 86.1C375.6 84.1 375.1 85.0 376.0 83.1C376.8 81.1 376.4 82.1 377.5 80.3C378.7 78.5 378.1 79.4 379.4 77.7C380.7 76.0 380.0 76.7 381.5 75.2C383.0 73.8 382.2 74.3 384.0 73.3C385.8 72.2 385.5 72.6 387.0 72.1C388.5 71.6 388.0 71.9 388.5 71.7" stroke="#855a2e" stroke-width="0.9"/>
<path d="M381.2 84.1C380.1 84.3 380.1 84.3 378.0 84.8C376.0 85.4 377.0 85.2 375.0 85.8C372.9 86.4 374.0 86.5 371.9 86.6C369.8 86.7 370.8 86.8 368.7 86.2C366.7 85.6 367.6 86.0 365.8 84.9C364.1 83.7 364.8 84.4 363.5 82.8C362.2 81.1 362.5 81.9 361.9 80.0C361.3 78.0 361.7 77.9 361.6 76.9C361.5 75.9 361.6 76.9 361.6 76.9" stroke="#8c6236" stroke-width="0.9"/>
<path d="M366.7 90.4C366.8 89.3 367.0 89.3 366.9 87.2C366.8 85.1 367.2 86.0 366.5 84.1C365.7 82.1 366.2 82.9 364.8 81.4C363.4 79.8 364.0 80.6 362.2 79.5C360.4 78.4 360.9 79.4 359.4 78.1C357.8 76.7 358.4 77.4 357.6 75.5C356.8 73.6 356.8 74.4 357.0 72.4C357.2 70.3 357.4 70.8 358.1 69.4C358.9 68.1 358.9 68.7 359.3 68.3" stroke="#8c6236" stroke-width="1.1"/>
<path d="M374.4 76.6C375.4 76.6 375.5 77.0 377.6 76.7C379.6 76.4 378.8 76.7 380.6 75.7C382.4 74.7 381.7 75.3 383.1 73.7C384.4 72.1 383.8 72.9 384.6 70.9C385.4 69.0 385.0 69.9 385.5 67.9C385.9 65.8 385.7 66.3 386.0 64.7C386.4 63.1 386.3 63.7 386.5 63.2" stroke="#744c22" stroke-width="0.9"/>
<path d="M398.3 94.0C399.0 94.8 398.8 95.0 400.4 96.5C401.9 97.9 401.0 97.4 402.9 98.4C404.8 99.3 403.9 99.0 406.0 99.3C408.0 99.7 407.0 99.4 409.1 99.5C411.3 99.7 410.8 99.5 412.3 99.7C413.9 99.9 413.4 100.0 413.9 100.2" stroke="#9a7444" stroke-width="1.1"/>
<path d="M413.1 88.6C412.1 88.6 412.1 88.7 409.9 88.6C407.8 88.6 408.9 88.4 406.7 88.5C404.6 88.6 405.6 88.3 403.6 89.0C401.6 89.7 402.4 89.2 400.9 90.6C399.3 92.0 399.9 91.3 398.9 93.1C397.9 94.9 398.1 94.1 397.8 96.1C397.5 98.2 397.6 97.2 397.9 99.3C398.3 101.4 398.5 101.4 398.7 102.4C399.0 103.4 398.7 102.4 398.7 102.4" stroke="#80552a" stroke-width="1.1"/>
<path d="M401.8 92.8C402.7 93.4 402.6 93.6 404.5 94.6C406.4 95.6 405.4 95.2 407.5 95.7C409.5 96.2 408.5 96.2 410.6 96.2C412.7 96.2 411.8 96.3 413.8 95.7C415.7 95.0 415.6 94.7 416.5 94.2C417.4 93.7 416.5 94.2 416.5 94.2" stroke="#9a7444" stroke-width="0.9"/>
<path d="M378.3 85.6C378.6 84.6 378.5 84.5 379.4 82.6C380.3 80.6 380.0 81.7 381.0 79.8C381.9 77.9 381.6 78.9 382.2 76.8C382.8 74.8 382.8 75.8 382.8 73.7C382.8 71.6 383.0 72.5 382.3 70.6C381.6 68.6 382.0 69.4 380.7 67.8C379.4 66.2 380.1 66.7 378.3 65.7C376.5 64.6 376.3 65.0 375.3 64.6C374.3 64.3 375.3 64.6 375.3 64.6" stroke="#a88458" stroke-width="1.0"/>
<path d="M394.5 69.5C394.5 68.4 394.9 68.4 394.7 66.3C394.5 64.2 394.7 65.2 393.9 63.2C393.2 61.2 393.7 62.1 392.4 60.4C391.1 58.7 391.9 59.3 390.1 58.2C388.3 57.1 389.1 57.2 387.1 57.2C385.1 57.2 385.5 57.5 384.1 58.1C382.6 58.7 383.2 58.7 382.7 58.9" stroke="#8c6236" stroke-width="0.8"/>
<path d="M393.3 64.1C393.2 63.0 393.1 63.0 393.1 60.9C393.0 58.7 393.5 59.7 393.1 57.7C392.7 55.6 393.2 56.3 392.0 54.7C390.7 53.1 391.3 53.7 389.4 52.8C387.5 52.0 388.4 52.4 386.3 52.2C384.2 52.0 385.2 51.9 383.1 52.2C381.0 52.5 382.0 52.3 380.0 53.0C378.0 53.7 378.5 53.6 377.1 54.3C375.6 55.0 376.1 54.8 375.6 55.0" stroke="#7c5228" stroke-width="1.1"/>
<path d="M406.3 86.8C407.4 87.0 407.4 86.9 409.5 87.5C411.5 88.2 410.4 88.0 412.4 88.7C414.4 89.5 413.6 88.9 415.4 89.8C417.3 90.8 417.0 90.5 418.0 91.6C419.0 92.6 418.3 92.6 418.5 93.1" stroke="#8c6236" stroke-width="1.1"/>
<path d="M397.8 108.4C397.0 109.2 396.8 109.0 395.5 110.7C394.2 112.3 395.0 111.6 393.9 113.4C392.7 115.2 393.6 114.6 392.1 116.0C390.7 117.5 391.4 116.9 389.5 117.8C387.6 118.8 388.5 118.7 386.4 118.8C384.4 118.8 385.2 119.0 383.4 118.0C381.6 116.9 381.9 116.5 381.1 115.7C380.4 115.0 381.1 115.7 381.1 115.7" stroke="#9a7444" stroke-width="1.1"/>
<path d="M404.2 83.2C405.2 82.9 405.3 83.2 407.3 82.5C409.3 81.8 408.2 82.0 410.1 81.1C412.1 80.1 411.0 80.3 413.0 79.7C415.0 79.1 414.4 78.6 416.2 79.2C417.9 79.9 417.7 79.8 418.2 81.6C418.7 83.4 418.5 82.8 417.6 84.7C416.8 86.6 417.0 85.6 415.6 87.2C414.3 88.9 414.5 88.4 413.5 89.6C412.4 90.8 412.8 90.4 412.5 90.8" stroke="#855a2e" stroke-width="1.0"/>
<path d="M378.1 74.8C377.1 74.5 376.9 74.8 375.0 73.9C373.1 73.0 373.9 73.5 372.4 72.1C370.8 70.7 371.4 71.4 370.4 69.6C369.5 67.7 369.5 68.5 369.5 66.5C369.6 64.5 369.2 64.8 370.5 63.6C371.8 62.4 371.4 63.0 373.5 62.8C375.6 62.6 375.1 62.9 376.7 63.0C378.3 63.0 377.8 63.0 378.3 63.0" stroke="#855a2e" stroke-width="0.9"/>
<path d="M372.2 76.2C373.1 76.7 373.2 76.5 375.1 77.6C376.9 78.6 376.0 78.1 377.7 79.4C379.3 80.8 378.7 79.9 380.0 81.6C381.3 83.3 380.9 82.4 381.5 84.4C382.2 86.4 382.0 85.5 381.9 87.6C381.7 89.6 381.3 89.6 381.0 90.6C380.7 91.7 381.0 90.6 381.0 90.6" stroke="#a88458" stroke-width="1.0"/>
<path d="M386.8 96.4C385.9 95.9 385.9 95.8 384.0 94.8C382.1 93.8 383.1 94.4 381.2 93.4C379.3 92.4 380.3 92.8 378.3 91.9C376.4 91.0 377.4 91.2 375.4 90.7C373.3 90.3 374.3 90.3 372.2 90.6C370.1 90.9 371.2 90.9 369.1 91.6C367.1 92.2 368.1 91.8 366.1 92.6C364.1 93.4 364.6 93.2 363.2 93.9C361.7 94.6 362.2 94.4 361.7 94.6" stroke="#a88458" stroke-width="1.1"/>
<path d="M371.4 98.3C370.7 99.0 370.8 99.2 369.2 100.6C367.6 102.0 368.5 101.7 366.6 102.5C364.8 103.4 365.4 103.6 363.6 103.1C361.8 102.6 362.4 102.7 361.3 101.0C360.3 99.3 360.8 99.5 360.5 97.9C360.2 96.4 360.5 96.9 360.5 96.3" stroke="#7c5228" stroke-width="1.1"/>
<path d="M386.2 101.4C387.1 100.8 387.1 100.9 388.8 99.6C390.5 98.3 389.7 99.0 391.2 97.5C392.7 95.9 391.9 96.7 393.2 95.0C394.5 93.3 393.9 94.2 395.1 92.4C396.3 90.6 396.0 91.6 396.8 89.7C397.6 87.8 397.3 88.7 397.5 86.6C397.7 84.5 397.5 84.5 397.4 83.4C397.4 82.3 397.4 83.4 397.4 83.4" stroke="#7c5228" stroke-width="1.1"/>
<path d="M382.8 62.5C383.2 63.5 383.2 63.5 384.0 65.5C384.7 67.5 384.6 66.5 385.0 68.5C385.3 70.6 385.3 69.7 385.0 71.7C384.6 73.8 384.9 72.9 383.8 74.7C382.8 76.5 382.5 76.3 381.8 77.2C381.2 78.0 381.8 77.2 381.8 77.2" stroke="#744c22" stroke-width="1.0"/>
<path d="M368.0 83.5C368.7 82.7 369.0 82.9 370.1 81.1C371.1 79.3 370.6 80.2 371.2 78.1C371.9 76.1 371.6 77.1 372.1 75.0C372.6 73.0 372.4 74.0 372.7 71.9C373.0 69.8 372.9 69.8 372.9 68.7C373.0 67.6 372.9 68.7 372.9 68.7" stroke="#744c22" stroke-width="0.9"/>
<path d="M378.2 66.9C377.2 66.6 377.0 67.0 375.1 66.0C373.3 65.0 374.3 65.3 372.7 64.0C371.0 62.6 372.1 62.8 370.3 61.9C368.5 61.0 369.2 61.1 367.2 61.2C365.1 61.3 365.9 61.1 364.2 62.2C362.4 63.2 363.1 62.7 361.9 64.4C360.6 66.1 360.8 65.3 360.5 67.3C360.2 69.3 360.5 68.9 360.9 70.4C361.3 71.9 361.4 71.3 361.7 71.8" stroke="#8c6236" stroke-width="0.9"/>
<path d="M386.5 79.8C386.8 78.8 387.2 78.9 387.5 76.8C387.8 74.8 387.9 75.7 387.3 73.6C386.8 71.6 387.1 72.5 386.0 70.8C384.8 69.0 385.4 69.7 383.8 68.4C382.1 67.2 383.0 67.5 381.0 66.9C379.0 66.3 378.9 66.6 377.8 66.5C376.8 66.4 377.8 66.5 377.8 66.5" stroke="#a88458" stroke-width="1.1"/>
<path d="M376.6 84.0C375.7 83.5 375.6 83.7 373.8 82.6C372.0 81.5 372.9 81.9 371.2 80.6C369.6 79.3 370.4 79.9 368.8 78.6C367.1 77.2 367.9 78.0 366.3 76.5C364.7 75.1 365.5 75.8 364.0 74.3C362.6 72.8 362.8 73.7 361.9 71.9C361.0 70.1 361.2 70.9 361.3 68.8C361.4 66.8 361.9 66.8 362.3 65.8C362.6 64.8 362.3 65.8 362.3 65.8" stroke="#80552a" stroke-width="1.1"/>
<path d="M402.7 82.8C403.8 82.5 403.8 82.7 405.8 82.0C407.9 81.4 406.9 81.7 408.8 80.9C410.8 80.0 409.9 80.6 411.7 79.5C413.5 78.4 413.0 78.6 414.2 77.4C415.3 76.3 414.7 76.6 415.0 76.1" stroke="#9a7444" stroke-width="0.8"/>
<path d="M391.2 84.3C391.6 83.3 391.3 83.2 392.3 81.3C393.3 79.5 392.7 80.2 394.1 78.7C395.6 77.3 394.9 77.9 396.8 76.9C398.6 75.9 397.7 76.3 399.7 75.8C401.8 75.3 400.8 75.7 402.9 75.4C405.0 75.2 404.0 75.2 406.1 75.2C408.2 75.1 407.2 74.9 409.3 75.2C411.4 75.6 411.3 75.9 412.3 76.3C413.3 76.6 412.3 76.3 412.3 76.3" stroke="#a88458" stroke-width="1.0"/>
<path d="M375.5 80.6C374.7 81.3 374.8 81.4 373.2 82.8C371.6 84.2 372.4 83.6 370.7 84.8C369.0 86.0 369.9 85.6 368.0 86.5C366.0 87.3 366.5 87.1 364.9 87.4C363.4 87.7 363.8 87.4 363.3 87.4" stroke="#66441e" stroke-width="1.1"/>
<path d="M407.8 74.4C406.9 74.8 406.6 74.5 405.0 75.7C403.3 77.0 403.9 76.3 402.8 78.1C401.7 79.8 402.2 79.0 401.7 81.0C401.1 83.1 401.7 82.1 401.2 84.2C400.7 86.3 401.2 85.4 400.3 87.3C399.3 89.1 399.8 88.4 398.2 89.7C396.6 91.1 397.4 90.6 395.5 91.3C393.5 92.0 393.4 91.6 392.3 91.8C391.3 92.0 392.3 91.8 392.3 91.8" stroke="#80552a" stroke-width="0.8"/>
<path d="M386.0 68.0C387.1 68.3 387.1 68.1 389.1 68.8C391.1 69.5 390.3 68.9 392.1 70.0C393.9 71.0 393.2 70.4 394.6 71.9C396.1 73.4 395.6 72.6 396.4 74.6C397.2 76.5 397.0 75.6 397.1 77.7C397.2 79.8 397.0 78.7 396.7 80.8C396.5 83.0 396.6 81.9 396.3 84.0C396.1 86.1 396.1 86.1 395.9 87.2C395.8 88.3 395.9 87.2 395.9 87.2" stroke="#744c22" stroke-width="1.1"/>
<path d="M370.8 93.4C371.8 93.1 371.8 92.7 373.9 92.7C375.9 92.7 375.0 92.6 377.0 93.3C379.0 94.0 378.2 93.5 379.8 94.8C381.5 96.1 380.9 95.4 381.9 97.2C382.9 99.0 382.6 98.2 382.9 100.2C383.1 102.3 383.1 101.3 382.6 103.4C382.2 105.5 382.2 104.9 381.6 106.4C381.0 107.9 381.1 107.4 380.9 107.9" stroke="#9a7444" stroke-width="1.1"/>
<path d="M390.0 85.2C389.0 84.7 389.0 84.7 387.0 83.9C385.1 83.1 386.1 83.4 384.1 82.7C382.1 81.9 383.1 82.0 381.0 81.7C379.0 81.3 380.0 81.5 377.9 81.7C375.7 81.8 376.8 82.0 374.7 82.1C372.6 82.3 373.6 82.2 371.5 82.1C369.4 82.1 370.4 82.1 368.3 82.0C366.2 81.9 366.2 82.0 365.1 81.9C364.0 81.9 365.1 81.9 365.1 81.9" stroke="#66441e" stroke-width="0.8"/>
<path d="M389.0 78.1C390.0 77.9 390.1 78.1 392.1 77.4C394.1 76.7 393.2 77.1 394.9 75.9C396.6 74.7 395.7 75.2 397.3 73.8C398.9 72.4 398.1 73.1 399.8 71.8C401.5 70.5 400.6 71.0 402.4 70.0C404.3 69.0 403.3 69.2 405.4 68.8C407.4 68.4 407.0 68.6 408.6 68.7C410.1 68.9 409.6 69.0 410.1 69.2" stroke="#8c6236" stroke-width="1.0"/>
<path d="M378.1 69.4C377.1 69.8 377.0 69.6 375.1 70.6C373.3 71.7 374.2 71.1 372.6 72.5C371.0 73.9 371.8 73.3 370.4 74.8C368.9 76.4 369.8 75.9 368.2 77.2C366.6 78.6 367.4 78.0 365.5 78.9C363.7 79.9 364.5 79.3 362.5 80.0C360.6 80.8 360.9 80.4 359.6 81.2C358.4 82.0 359.1 82.1 358.8 82.6" stroke="#8c6236" stroke-width="0.8"/>
</g>
<g id="scalpel" transform="translate(436.4 125) rotate(-43.3)">
<path d="M0 0C3 -1.4 10 -2 16 -1.7L21.5 -1.2V1.3C17 3.9 7 4.8 0 0Z" fill="#dadada" stroke="#7f7f7f" stroke-width="0.7" stroke-linejoin="round"/>
<path d="M21 -2.2L86 -3.7A3.7 3.7 0 0 1 86 3.7L21 2.4Z" fill="#c4c4c4" stroke="#7f7f7f" stroke-width="0.8" stroke-linejoin="round"/>
<path d="M25 -1.1L86 -2.2V-0.2L25 0.2Z" fill="#e4e4e4"/>
<path d="M25 1.4L86 2.4" stroke="#a8a8a8" stroke-width="0.5" fill="none"/>
</g>
<defs>
<linearGradient id="fadeR" gradientUnits="userSpaceOnUse" x1="435" y1="169.2" x2="452.4" y2="175.8"><stop offset="0" stop-color="#fff"/><stop offset="0.5" stop-color="#fff" stop-opacity="0.5"/><stop offset="1" stop-color="#fff" stop-opacity="0"/></linearGradient>
<mask id="headMask" maskUnits="userSpaceOnUse" x="370" y="120" width="110" height="100"><rect x="370" y="120" width="110" height="100" fill="url(#fadeR)"/></mask>
<linearGradient id="headG" gradientUnits="userSpaceOnUse" x1="400" y1="145" x2="410" y2="195"><stop offset="0" stop-color="#999694"/><stop offset="1" stop-color="#8b8886"/></linearGradient>
</defs>
<g id="mouse-head">
<path d="M422 143.5C422 138.6 427.5 135 433.5 135C438.5 135 440 138 438.6 141C437.4 143.4 435 144.5 432 145Z" fill="#a09e9e"/>
<path d="M378.9 166.1C379.5 164.0 379.1 164.5 381.3 162.4C383.4 160.2 382.2 161.7 386.1 158.8C390.0 155.9 388.4 156.0 394.2 152.7C400.0 149.4 398.7 150.4 405.4 147.9C412.2 145.4 411.4 145.9 416.7 144.3C422.0 142.7 418.8 143.3 423.1 142.6C427.5 141.8 426.4 141.8 431.2 141.9C436.0 142.1 434.9 142.1 439.2 143.0C443.6 144.0 441.8 143.4 445.7 145.1C449.5 146.9 449.6 146.9 452.1 148.8C454.6 150.7 452.4 148.7 454.0 151.5C455.6 154.3 457.2 153.1 457.5 158.0C457.8 162.9 456.8 162.0 455.0 168.0C453.2 174.0 454.2 172.0 451.5 178.0C448.8 184.0 449.4 182.3 446.0 188.0C442.6 193.7 443.7 192.3 440.0 197.0C436.3 201.7 436.0 202.4 433.6 203.5C431.2 204.6 434.2 203.6 432.0 200.7C429.8 197.8 430.5 197.4 426.4 193.9C422.3 190.4 425.6 192.0 418.3 189.1C411.1 186.2 411.9 187.5 402.2 184.3C392.5 181.0 392.6 181.8 386.1 178.1C379.6 174.5 382.5 174.7 380.5 172.0C378.4 169.4 379.7 171.1 379.2 169.3C378.7 167.5 378.2 168.1 378.9 166.1Z" fill="url(#headG)" mask="url(#headMask)"/>
<path d="M383.5 160C381 154 379 150.5 376.5 148.5M384.8 159.4C383.5 154 382 150 380 147.6M382 161.5C379.5 157 377 154.5 374.5 153M385.5 158.8C385 154.5 384.2 151.5 383 149" stroke="#c4c4c4" stroke-width="0.5" fill="none"/>
<path d="M384 171C392 174 400 178 406 183M383 169.5C392 171 400 174 408 178" stroke="#939191" stroke-width="0.4" fill="none"/>
<path d="M378.6 166.2C378.6 163.6 380.4 162.2 381.8 162.4C381.4 164.8 381 167.4 381.4 169.6C379.8 169.4 378.6 168 378.6 166.2Z" fill="#d9a9a6"/>
<g fill="#c49793" stroke="#b48682" stroke-width="0.4">
<path d="M430 147.5C434 147 437.6 150 437.8 153.4C439.6 153.6 440.6 154.6 440 155.8C437 157.2 432.6 157.2 429.4 156Z"/>
<path d="M422.6 147.4C425.4 144.6 430.6 145.4 432.4 148.6C433.8 151.6 432.8 155.4 430 156.8C427.4 157.8 424.4 157.2 423 155.4Z"/>
<path d="M399 156.4C400.4 154 403.4 153.6 405.6 154.2C407.6 150.8 412.6 147.4 417.6 146.6C421.6 146.2 424 148.6 424.2 152.4C424.4 156.6 421.6 160.2 417.2 161.2C413.6 161.8 410 161 408.2 159.6C405 160.2 400.6 159.2 399 156.4Z"/>
</g>
<ellipse cx="407" cy="162.2" rx="3.1" ry="1.8" transform="rotate(15 407 162.2)" fill="#64605e"/>
<path d="M431.5 163.8C430.5 158.8 433 151 438.5 147.4C443.6 144.4 448.8 146.6 449.6 152.4C450.4 158.4 447.8 164.6 443 166.6C438.6 168.2 433.2 167.4 431.5 163.8Z" fill="#d2afab" stroke="#b79590" stroke-width="0.6"/>
<path d="M435.8 162.6C435.6 158 437.6 153 441 150.4C444.4 148.4 447.2 150 447.4 153.8C447.4 158.4 445.6 162.6 442.4 164.2C439.8 165.2 436.8 164.6 435.8 162.6Z" fill="#e0c6c1"/>
</g>
<path d="M386 115.5L411.9 149.2M412.6 113L412.2 149.2" stroke="#555" stroke-width="1.3" stroke-dasharray="1.7 1.9" fill="none"/>

<!-- Panel a : FACS funnel, chromosome, chromatin, RNA -->
<g id="facs">
<path d="M589.2 57.6H664.2L661.2 78.8L633.3 99.4V166.3H620.1V99.4L591.4 78.8Z" fill="#e9eff9"/>
<circle cx="606.3" cy="74.8" r="4.3" fill="#f8e6c8"/><circle cx="606.3" cy="74.8" r="1.9" fill="#ecc088"/>
<circle cx="620.1" cy="76.1" r="4.3" fill="#4696cf"/><circle cx="620.1" cy="76.1" r="1.9" fill="#1f6ca6"/>
<circle cx="644.5" cy="74.2" r="4.3" fill="#a2a2a2"/><circle cx="644.5" cy="74.2" r="1.9" fill="#6e6e6e"/>
<circle cx="614.0" cy="83.5" r="4.3" fill="#e17676"/><circle cx="614.0" cy="83.5" r="1.9" fill="#b94b4b"/>
<circle cx="632.0" cy="83.0" r="4.3" fill="#e17676"/><circle cx="632.0" cy="83.0" r="1.9" fill="#b94b4b"/>
<circle cx="641.3" cy="83.5" r="4.3" fill="#f8e6c8"/><circle cx="641.3" cy="83.5" r="1.9" fill="#ecc088"/>
<circle cx="620.6" cy="90.2" r="4.3" fill="#f5bb7c"/><circle cx="620.6" cy="90.2" r="1.9" fill="#e48f45"/>
<circle cx="628.6" cy="93.3" r="4.3" fill="#a2a2a2"/><circle cx="628.6" cy="93.3" r="1.9" fill="#6e6e6e"/>
<circle cx="626.7" cy="107.1" r="4.3" fill="#4696cf"/><circle cx="626.7" cy="107.1" r="1.9" fill="#1f6ca6"/>
<circle cx="627.0" cy="117.7" r="4.3" fill="#e17676"/><circle cx="627.0" cy="117.7" r="1.9" fill="#b94b4b"/>
<circle cx="627.0" cy="127.8" r="4.3" fill="#f5bb7c"/><circle cx="627.0" cy="127.8" r="1.9" fill="#e48f45"/>
<circle cx="626.4" cy="137.1" r="4.3" fill="#a2a2a2"/><circle cx="626.4" cy="137.1" r="1.9" fill="#6e6e6e"/>
<circle cx="626.7" cy="147.2" r="4.3" fill="#f5bb7c"/><circle cx="626.7" cy="147.2" r="1.9" fill="#e48f45"/>
<circle cx="626.7" cy="157.5" r="4.3" fill="#f8e6c8"/><circle cx="626.7" cy="157.5" r="1.9" fill="#ecc088"/>
<path d="M587.7 45.1L591.4 78.8L620.1 99.4V166.3M665.7 45.1L661.2 78.8L633.3 99.4V166.3" fill="none" stroke="#232323" stroke-width="1.9" stroke-linejoin="miter"/>
</g>
<defs><linearGradient id="chrG" x1="0" y1="0" x2="1" y2="0"><stop offset="0" stop-color="#3a917f"/><stop offset="0.5" stop-color="#2e8473"/><stop offset="1" stop-color="#226b5c"/></linearGradient></defs>
<g id="chromosome" fill="#2d8473" stroke="#236e5f" stroke-width="0.5">
<path d="M772.92 25.22L772.98 26.15L773.03 27.41L773.10 28.99L773.21 30.77L773.40 32.69L773.70 34.67L774.11 36.58L774.64 38.18L775.29 39.68L776.00 41.10L776.72 42.47L777.40 43.84L778.00 45.21L778.47 46.62L778.77 48.07L778.85 49.46L778.79 50.70L778.61 52.01L778.33 53.38L777.98 54.80L777.58 56.27L777.14 57.79L776.68 59.35L776.23 60.97L775.81 62.65L775.44 64.37L775.15 66.09L774.93 67.66L774.73 69.33L774.53 71.08L774.35 72.88L774.17 74.71L774.00 76.53L773.85 78.31L773.70 80.02L773.57 81.63L773.45 83.10L773.34 84.42L773.25 85.53L773.16 86.42A3.90 3.90 0 0 0 780.94 87.05L781.00 86.14L781.08 85.01L781.17 83.69L781.28 82.21L781.39 80.60L781.51 78.90L781.63 77.13L781.75 75.32L781.88 73.52L782.00 71.73L782.11 70.01L782.22 68.38L782.32 66.89L782.43 65.31L782.55 63.72L782.69 62.12L782.83 60.50L782.98 58.88L783.12 57.27L783.24 55.66L783.35 54.07L783.43 52.49L783.47 50.93L783.46 49.37L783.37 47.59L783.17 45.71L782.88 43.90L782.54 42.17L782.18 40.53L781.83 38.99L781.53 37.57L781.29 36.28L781.13 35.14L780.97 33.65L780.84 31.96L780.74 30.25L780.66 28.61L780.60 27.11L780.55 25.80L780.51 24.79A3.80 3.80 0 0 0 772.92 25.22Z"/>
<path d="M787.08 24.69L787.00 25.70L786.92 27.02L786.82 28.53L786.70 30.16L786.54 31.86L786.35 33.53L786.13 34.98L785.91 36.07L785.58 37.34L785.16 38.76L784.68 40.30L784.19 41.94L783.72 43.68L783.32 45.50L783.04 47.40L782.92 49.24L782.93 50.85L783.01 52.44L783.14 54.04L783.32 55.66L783.53 57.28L783.76 58.91L783.99 60.53L784.22 62.14L784.42 63.74L784.60 65.31L784.75 66.87L784.87 68.33L785.01 69.96L785.14 71.67L785.28 73.46L785.42 75.27L785.56 77.08L785.69 78.86L785.82 80.57L785.94 82.19L786.04 83.68L786.14 85.01L786.23 86.16L786.30 87.07A3.90 3.90 0 0 0 794.07 86.40L793.98 85.50L793.88 84.38L793.76 83.06L793.64 81.58L793.50 79.95L793.34 78.23L793.18 76.43L793.00 74.60L792.80 72.76L792.60 70.94L792.38 69.17L792.14 67.49L791.89 65.89L791.54 64.13L791.10 62.39L790.59 60.70L790.06 59.08L789.52 57.52L789.00 56.02L788.52 54.57L788.11 53.18L787.80 51.84L787.60 50.56L787.53 49.37L787.64 48.02L787.99 46.63L788.53 45.29L789.21 43.96L789.99 42.64L790.82 41.29L791.65 39.90L792.42 38.41L793.06 36.79L793.57 34.86L793.95 32.85L794.20 30.91L794.37 29.10L794.48 27.52L794.56 26.25L794.65 25.33A3.80 3.80 0 0 0 787.08 24.69Z"/>
</g>
<g fill="#4fa593" fill-opacity="0.55">
<path d="M774.25 26.27L774.29 27.19L774.32 28.43L774.36 29.94L774.46 31.62L774.63 33.41L774.90 35.23L775.27 36.73L775.75 38.07L776.32 39.36L776.94 40.66L777.54 41.99L778.10 43.37L778.56 44.84L778.88 46.40L779.01 48.03L778.99 49.26L778.87 50.57L778.69 51.94L778.44 53.36L778.15 54.83L777.83 56.32L777.48 57.85L777.13 59.39L776.79 60.94L776.46 62.50L776.17 64.05L775.93 65.58L775.75 67.11L775.58 68.71L775.42 70.38L775.28 72.10L775.14 73.83L775.02 75.56L774.91 77.24L774.80 78.86L774.71 80.38L774.63 81.78L774.55 83.03L774.48 84.09L774.42 84.94A1.10 1.10 0 0 0 776.61 85.12L776.69 84.26L776.78 83.19L776.88 81.95L777.00 80.55L777.13 79.03L777.26 77.42L777.41 75.74L777.56 74.03L777.71 72.30L777.86 70.60L778.01 68.94L778.15 67.36L778.30 65.87L778.47 64.38L778.66 62.86L778.87 61.31L779.09 59.75L779.31 58.18L779.52 56.62L779.72 55.09L779.90 53.57L780.04 52.10L780.15 50.68L780.21 49.30L780.21 47.98L780.11 46.25L779.86 44.55L779.52 42.95L779.11 41.43L778.67 40.00L778.23 38.63L777.85 37.35L777.54 36.14L777.29 34.81L777.05 33.11L776.87 31.41L776.72 29.79L776.61 28.32L776.52 27.07L776.44 26.13A1.10 1.10 0 0 0 774.25 26.27Z"/>
<path d="M788.23 26.12L788.14 27.06L788.05 28.32L787.92 29.79L787.76 31.42L787.54 33.11L787.24 34.80L786.94 36.09L786.55 37.27L786.06 38.54L785.51 39.89L784.95 41.31L784.42 42.81L783.96 44.40L783.62 46.08L783.44 47.84L783.42 49.17L783.46 50.54L783.57 51.98L783.72 53.46L783.91 54.97L784.13 56.52L784.36 58.08L784.61 59.66L784.86 61.23L785.10 62.79L785.32 64.32L785.51 65.82L785.68 67.31L785.85 68.89L786.03 70.55L786.21 72.26L786.39 74.00L786.57 75.72L786.75 77.41L786.92 79.03L787.08 80.55L787.22 81.95L787.35 83.20L787.46 84.28L787.55 85.14A1.10 1.10 0 0 0 789.74 84.92L789.67 84.07L789.58 83.00L789.48 81.75L789.36 80.34L789.24 78.81L789.10 77.18L788.96 75.49L788.80 73.76L788.64 72.02L788.46 70.29L788.28 68.62L788.08 67.02L787.87 65.49L787.60 63.95L787.28 62.39L786.93 60.83L786.55 59.27L786.18 57.72L785.81 56.20L785.46 54.70L785.16 53.24L784.91 51.82L784.73 50.45L784.64 49.14L784.64 47.92L784.84 46.29L785.25 44.76L785.81 43.34L786.48 41.99L787.19 40.69L787.91 39.42L788.59 38.14L789.17 36.81L789.61 35.32L789.96 33.48L790.17 31.67L790.28 29.97L790.34 28.45L790.37 27.20L790.43 26.28A1.10 1.10 0 0 0 788.23 26.12Z"/>
</g>
<circle cx="780.8" cy="48.9" r="1.9" fill="#86c3b3"/><circle cx="785.6" cy="48.9" r="1.9" fill="#86c3b3"/>
<path d="M795.0 75.7C795.5 71.4 795.4 70.8 796.7 62.9C798.0 54.9 796.6 56.9 798.9 51.8C801.2 46.7 800.4 46.9 803.5 47.5C806.6 48.1 806.6 47.8 808.3 53.5C810.0 59.2 809.5 57.9 808.6 64.6C807.7 71.2 805.9 72.3 805.7 73.4C805.5 74.6 805.7 76.0 808.1 68.0C810.5 59.9 808.7 59.2 812.9 49.2C817.0 39.3 815.7 39.8 820.5 38.1C825.4 36.4 825.7 38.4 827.4 44.1C829.1 49.8 828.8 47.8 825.7 55.2C822.5 62.6 820.8 59.7 818.0 66.3C815.1 72.8 815.7 71.1 817.1 74.8C818.5 78.5 818.5 77.9 822.2 77.4C825.9 76.8 823.9 80.8 828.2 73.1C832.5 65.4 830.8 62.3 835.0 54.3C839.3 46.4 837.8 48.7 841.0 49.2C844.2 49.8 844.5 50.9 844.8 56.0C845.0 61.2 843.8 59.2 841.9 64.6C839.9 70.0 838.2 67.4 838.8 72.2C839.4 77.1 839.4 79.9 843.6 79.1C847.7 78.2 847.3 79.1 851.2 69.7C855.2 60.3 852.4 58.9 855.5 50.9C858.6 43.0 857.7 45.0 860.6 45.8C863.6 46.7 864.1 47.2 864.4 53.5C864.6 59.7 862.8 58.3 861.5 64.6C860.1 70.8 859.1 68.3 860.3 72.2C861.4 76.2 861.3 77.9 864.9 76.5C868.4 75.1 867.7 77.6 870.8 68.0C874.0 58.3 871.7 56.6 874.3 47.5C876.8 38.4 875.9 40.1 878.5 40.7C881.1 41.3 881.8 42.4 882.1 49.2C882.4 56.0 880.3 57.2 879.4 61.2" fill="none" stroke="#cfcfcf" stroke-width="1.3"/>
<path id="chromatin" d="M795.0 75.7C795.5 71.4 795.4 70.8 796.7 62.9C798.0 54.9 796.6 56.9 798.9 51.8C801.2 46.7 800.4 46.9 803.5 47.5C806.6 48.1 806.6 47.8 808.3 53.5C810.0 59.2 809.5 57.9 808.6 64.6C807.7 71.2 805.9 72.3 805.7 73.4C805.5 74.6 805.7 76.0 808.1 68.0C810.5 59.9 808.7 59.2 812.9 49.2C817.0 39.3 815.7 39.8 820.5 38.1C825.4 36.4 825.7 38.4 827.4 44.1C829.1 49.8 828.8 47.8 825.7 55.2C822.5 62.6 820.8 59.7 818.0 66.3C815.1 72.8 815.7 71.1 817.1 74.8C818.5 78.5 818.5 77.9 822.2 77.4C825.9 76.8 823.9 80.8 828.2 73.1C832.5 65.4 830.8 62.3 835.0 54.3C839.3 46.4 837.8 48.7 841.0 49.2C844.2 49.8 844.5 50.9 844.8 56.0C845.0 61.2 843.8 59.2 841.9 64.6C839.9 70.0 838.2 67.4 838.8 72.2C839.4 77.1 839.4 79.9 843.6 79.1C847.7 78.2 847.3 79.1 851.2 69.7C855.2 60.3 852.4 58.9 855.5 50.9C858.6 43.0 857.7 45.0 860.6 45.8C863.6 46.7 864.1 47.2 864.4 53.5C864.6 59.7 862.8 58.3 861.5 64.6C860.1 70.8 859.1 68.3 860.3 72.2C861.4 76.2 861.3 77.9 864.9 76.5C868.4 75.1 867.7 77.6 870.8 68.0C874.0 58.3 871.7 56.6 874.3 47.5C876.8 38.4 875.9 40.1 878.5 40.7C881.1 41.3 881.8 42.4 882.1 49.2C882.4 56.0 880.3 57.2 879.4 61.2" fill="none" stroke="#979797" stroke-width="1.5" stroke-linecap="round" stroke-dasharray="0.1 2"/>
<g id="rnaseq">
<circle cx="794.6" cy="143.4" r="24.9" fill="#fff" stroke="#222" stroke-width="1.35"/>
<path d="M771.7 137.7H785.2M787.3 137.7H806.0M808.8 137.7H817.5M771.7 140.2H781.0M784.2 140.2H798.8M804.0 140.2H817.5M771.7 142.9H783.1M786.2 142.9H802.9M805.0 142.9H817.5M771.7 145.8H777.9M780.0 145.8H806.0M808.8 145.8H817.5M771.7 148.8H779.0M781.0 148.8H809.2M811.2 148.8H817.5" stroke="#84996c" stroke-width="1.25" fill="none"/>
<path d="M781.2 191.4C786 200 791.6 206 798.8 206C806.4 206 812 200.4 817.6 191.8" fill="none" stroke="#23705f" stroke-width="6.6"/>
<path d="M817.2 192.4C823 184 828.4 176.6 835.6 176.6C842.6 176.8 847.4 182.6 852 190" fill="none" stroke="#d9a731" stroke-width="6.6"/>
<path d="M780 165.8L807.5 195.8M817.1 157.9L808.1 195.8" stroke="#6a6a6a" stroke-width="0.6" stroke-dasharray="1.7 1.2" fill="none"/>
</g>

<!-- Panel b : boxplot -->
<g id="panel-b">
<text x="3" y="305.5" font-size="16.5" font-weight="bold" fill="#000">b</text>
<text x="153.5" y="316.3" font-size="18.5" font-style="italic" text-anchor="middle" fill="#000">APOE</text>
<text transform="translate(33.6,439.7) rotate(-90)" font-size="16.1" textLength="47.4" lengthAdjust="spacingAndGlyphs" fill="#000">Counts</text>
<g stroke="#333" stroke-width="0.9" fill="none">
<path d="M75.5 324V507.3H231.5"/>
<path d="M72.7 356.2H75.5M72.7 393.6H75.5M72.7 430.9H75.5M72.7 468.2H75.5M72.7 505.4H75.5"/>
<path d="M97.5 507.3V510M135 507.3V510M172.3 507.3V510M209.6 507.3V510"/>
</g>
<g font-size="12.5" fill="#4d4d4d" text-anchor="end">
<text x="71.8" y="360.7">40000</text>
<text x="71.8" y="398.1">30000</text>
<text x="71.8" y="435.4">20000</text>
<text x="71.8" y="472.7">10000</text>
<text x="71.8" y="509.9">0</text>
</g>
<g font-size="12.5" fill="#4d4d4d" text-anchor="middle">
<text x="97.5" y="520.5">E2</text>
<text x="135" y="520.5">E3</text>
<text x="172.3" y="520.5">E4</text>
<text x="209.6" y="520.5">KO</text>
</g>
<!-- significance brackets -->
<g stroke="#333" stroke-width="0.6" fill="none">
<path d="M134.6 335.6V332.3H172.3V335.6"/>
<path d="M97.4 349.8V346.5H209.6V349.8"/>
<path d="M134.6 363.8V360.5H209.6V363.8"/>
<path d="M171.9 378.1V374.8H209.6V378.1"/>
</g>
<g font-size="8.3" fill="#222" text-anchor="middle">
<text x="153.4" y="330.8">0.039</text>
<text x="153.4" y="345">3.4e−05</text>
<text x="172" y="359">0.00021</text>
<text x="190.6" y="373.3">0.002</text>
</g>
<!-- boxes -->
<g stroke="#555" stroke-width="0.7">
<path d="M97.5 380.8V388.8M97.5 404.3V409.3" fill="none"/>
<rect x="83.5" y="388.8" width="28.2" height="15.5" fill="#8fbce0"/>
<path d="M135 387.5V391.6M135 405.3V407.6" fill="none"/>
<rect x="120.8" y="391.6" width="28" height="13.7" fill="#e2c92e"/>
<path d="M172.3 433V434M172.3 439.6V440.6" fill="none"/>
<rect x="158.1" y="434" width="28.2" height="5.6" fill="#6fba80"/>
<rect x="195.5" y="498.7" width="27.6" height="0.8" fill="#456a9f"/>
</g>
<g stroke="#2a2a2a" stroke-width="1.8" fill="none">
<path d="M83.5 390.6H111.7M120.8 398.9H148.8M158.1 435.4H186.3M195.5 499.1H223.1"/>
</g>
<g fill="#000">
<circle cx="85.8" cy="380.8" r="1.8"/><circle cx="87.3" cy="389" r="1.8"/><circle cx="110.3" cy="390.5" r="1.8"/><circle cx="102" cy="404" r="1.8"/><circle cx="91.3" cy="409.3" r="1.8"/>
<circle cx="142.8" cy="387.3" r="1.8"/><circle cx="128" cy="393.3" r="1.8"/><circle cx="128.3" cy="404" r="1.8"/><circle cx="120.5" cy="407.6" r="1.8"/>
<circle cx="172.3" cy="388.2" r="1.7" fill="#3a3a3a"/><circle cx="169.4" cy="388.2" r="1.8"/>
<circle cx="163" cy="440.6" r="1.8"/><circle cx="167" cy="435.3" r="1.8"/><circle cx="179.8" cy="434" r="1.8"/><circle cx="185.3" cy="439.3" r="1.8"/>
<circle cx="195.8" cy="499.1" r="1.8"/><circle cx="210.8" cy="497.8" r="1.8"/><circle cx="222.8" cy="499.1" r="1.8"/>
</g>
<!-- legend -->
<g stroke="#555" stroke-width="0.7">
<path d="M250.5 394.4V405.6M250.5 407.5V418.7M250.5 420.5V431.7M250.5 433.5V444.7" fill="none"/>
<rect x="245.2" y="396.3" width="10.6" height="7.4" fill="#8fbce0"/>
<rect x="245.2" y="409.4" width="10.6" height="7.4" fill="#e2c92e"/>
<rect x="245.2" y="422.4" width="10.6" height="7.4" fill="#6fba80"/>
<rect x="245.2" y="435.4" width="10.6" height="7.4" fill="#456a9f"/>
<path d="M245.2 400H255.8M245.2 413.1H255.8M245.2 426.1H255.8M245.2 439.1H255.8" fill="none"/>
</g>
<g fill="#000">
<circle cx="250.5" cy="400" r="1.8"/><circle cx="250.5" cy="413.1" r="1.8"/><circle cx="250.5" cy="426.1" r="1.8"/><circle cx="250.5" cy="439.1" r="1.8"/>
</g>
<g font-size="11.7" fill="#000">
<text x="264.7" y="404.4">E2</text>
<text x="264.7" y="417.5">E3</text>
<text x="264.7" y="430.5">E4</text>
<text x="264.7" y="443.5">KO</text>
</g>
</g>

<!-- Panel c : genome tracks -->
<g id="panel-c">
<text x="309.6" y="305.6" font-size="16.5" font-weight="bold" fill="#000">c</text>
<path d="M369.9 354.3L369.9 350.5L371.0 350.8L373.4 353.2L376.3 349.0L379.3 353.5L381.6 351.4L385.1 351.5L389.2 354.3L395.7 353.5L403.9 354.4L410.4 353.5L415.7 354.4L419.8 354.1L422.7 348.5L425.1 345.6L428.3 338.2L429.8 340.5L432.1 348.2L433.9 351.4L436.2 350.2L440.3 354.1L443.6 352.3L446.8 354.4L449.1 352.3L452.3 344.3L453.8 347.6L456.2 352.6L457.9 353.5L465.0 353.8L473.2 354.4L481.4 353.6L485.9 353.5L490.6 354.4L494.7 352.1L498.8 354.1L501.1 353.2L504.1 354.4L508.5 352.3L511.7 354.1L516.4 354.4L522.5 351.1L525.2 353.2L530.5 353.5L534.2 351.1L537.5 352.1L540.1 354.4L543.4 352.6L549.3 352.3L551.6 353.5L557.5 353.5L560.4 354.4L562.8 352.6L568.1 354.4L573.3 352.3L576.3 353.2L581.0 352.3L585.1 353.2L586.3 351.7L588.0 342.9L593.7 324.3L595.7 328.2L595.7 354.3Z" fill="#8fbbdc" stroke="#4d7fa8" stroke-width="0.55" stroke-linejoin="round"/>
<path d="M367.4 324.3H369.7V354.3H367.4" fill="none" stroke="#555" stroke-width="0.7"/>
<text x="363.8" y="327.1" font-size="8.6" text-anchor="end" fill="#111">116</text>
<text x="363.8" y="357.2" font-size="8.6" text-anchor="end" fill="#111">0</text>
<text x="345.3" y="341.9" font-size="11.8" fill="#92bfe0">E2</text>
<path d="M369.9 391.4L369.9 384.8L371.3 385.8L372.8 391.1L374.6 391.1L378.1 388.1L379.9 388.9L382.8 388.1L385.1 388.9L388.1 391.1L393.4 391.4L396.3 390.2L400.4 391.4L413.3 391.4L418.0 390.2L421.5 388.7L425.6 378.1L427.4 379.3L430.7 382.2L432.1 386.9L436.8 388.1L440.3 389.3L443.8 391.4L448.0 391.4L449.5 389.9L452.3 374.8L453.8 379.9L455.8 389.9L457.3 391.4L481.4 391.4L483.5 391.1L485.3 390.2L486.5 391.3L503.5 391.4L506.4 390.2L508.8 391.3L519.9 391.4L522.5 389.3L525.2 391.3L528.1 390.5L531.3 389.1L534.0 391.3L543.4 391.4L546.0 390.2L548.1 391.3L551.9 389.1L554.6 391.3L556.9 390.2L559.8 391.4L562.8 390.2L564.3 391.3L565.7 390.2L568.1 391.4L578.6 391.4L581.0 390.2L583.3 391.4L586.3 388.7L587.8 381.1L589.8 377.5L593.9 366.6L595.7 371.1L595.7 391.4Z" fill="#e2c72b" stroke="#a8901a" stroke-width="0.55" stroke-linejoin="round"/>
<path d="M367.4 361.3H369.7V391.4H367.4" fill="none" stroke="#555" stroke-width="0.7"/>
<text x="363.8" y="364.1" font-size="8.6" text-anchor="end" fill="#111">116</text>
<text x="363.8" y="394.3" font-size="8.6" text-anchor="end" fill="#111">0</text>
<text x="345.3" y="378.9" font-size="11.8" fill="#e3cb3c">E3</text>
<path d="M369.9 428.8L369.9 425.1L372.2 428.1L374.0 428.1L376.3 422.2L378.1 423.9L380.4 428.8L382.8 429.0L386.3 427.5L389.2 428.9L394.5 428.3L399.2 429.1L403.9 428.3L406.9 429.1L410.4 428.4L415.7 429.1L421.5 428.4L424.5 423.4L426.8 421.0L428.8 416.0L430.3 417.1L432.1 425.7L433.9 426.3L436.2 424.3L439.1 428.1L445.0 429.2L449.7 428.1L452.3 417.8L453.8 421.6L456.2 428.1L465.0 429.0L473.2 428.3L480.2 429.1L484.7 428.3L488.2 429.1L491.2 428.4L494.1 429.1L498.2 428.4L502.9 429.1L507.0 428.3L510.5 429.1L515.2 428.4L521.1 429.1L524.6 428.4L534.0 428.4L538.7 429.1L543.4 428.4L546.9 429.1L550.8 427.2L554.0 429.1L558.1 427.5L561.0 428.9L564.3 427.7L566.9 428.8L569.8 427.5L572.8 428.6L577.5 429.1L581.0 428.4L583.9 429.1L586.3 426.9L587.8 415.1L589.4 411.0L591.0 411.6L593.7 404.6L595.7 409.3L595.7 428.8Z" fill="#6fb581" stroke="#3f8553" stroke-width="0.55" stroke-linejoin="round"/>
<path d="M367.4 399.3H369.7V428.8H367.4" fill="none" stroke="#555" stroke-width="0.7"/>
<text x="363.8" y="402.1" font-size="8.6" text-anchor="end" fill="#111">116</text>
<text x="363.8" y="431.7" font-size="8.6" text-anchor="end" fill="#111">0</text>
<text x="345.3" y="416.9" font-size="11.8" fill="#7fc091">E4</text>
<path d="M369.9 466.2L369.9 463.9L371.6 465.1L373.4 465.6L376.3 464.1L378.7 465.1L384.5 465.6L388.1 465.1L390.4 466.0L413.3 466.0L419.2 465.4L422.1 464.5L425.1 459.8L427.4 458.9L428.6 456.8L430.0 459.2L431.9 465.1L434.5 465.1L438.0 463.3L440.9 463.1L442.7 464.8L446.2 465.8L449.1 465.8L450.7 458.0L452.3 454.8L453.8 457.4L455.6 465.1L457.9 466.0L481.4 466.0L484.7 465.9L488.2 465.2L492.9 466.0L515.2 466.0L519.9 465.6L522.5 464.9L526.4 465.9L545.8 466.0L550.5 465.3L553.4 465.3L556.3 466.0L559.8 465.3L562.8 465.1L565.7 466.0L570.4 466.0L573.3 465.2L575.7 466.0L579.2 465.2L581.0 466.0L584.5 466.0L586.8 464.5L588.6 460.4L590.6 453.0L592.1 455.1L594.1 453.9L595.1 454.5L595.1 466.2Z" fill="#46699c" stroke="#2c4a78" stroke-width="0.55" stroke-linejoin="round"/>
<path d="M367.4 436.3H369.7V466.2H367.4" fill="none" stroke="#555" stroke-width="0.7"/>
<text x="363.8" y="439.1" font-size="8.6" text-anchor="end" fill="#111">116</text>
<text x="363.8" y="469.1" font-size="8.6" text-anchor="end" fill="#111">0</text>
<text x="343.4" y="453.9" font-size="11.8" fill="#5477a8">KO</text>
<text x="482.6" y="482.8" font-size="11" textLength="32.6" lengthAdjust="spacingAndGlyphs" text-anchor="middle" fill="#000">APOE</text>
<path d="M446.0 487.1H523.7M430.0 490.9H526.1M430.0 494.6H536.6M430.0 498.1H474.8M430.0 501.75H523.7" stroke="#000" stroke-width="1" fill="none"/>
<rect x="446.0" y="486.00" width="8.6" height="1.6" fill="#000"/>
<rect x="453.2" y="485.65" width="2.7" height="2.9" fill="#000"/>
<rect x="488.0" y="485.55" width="5.9" height="3.1" fill="#000"/>
<rect x="453.2" y="489.45" width="2.7" height="2.9" fill="#000"/>
<rect x="488.0" y="489.35" width="5.9" height="3.1" fill="#000"/>
<rect x="453.2" y="493.15" width="2.7" height="2.9" fill="#000"/>
<rect x="488.0" y="493.05" width="5.9" height="3.1" fill="#000"/>
<rect x="510.8" y="485.55" width="12.9" height="3.1" fill="#000"/>
<rect x="510.8" y="489.35" width="15.2" height="3.1" fill="#000"/>
<rect x="510.8" y="493.05" width="21.7" height="3.1" fill="#000"/>
<rect x="532.5" y="493.80" width="4.1" height="1.6" fill="#000"/>
<rect x="453.4" y="497.15" width="21.4" height="1.9" fill="#000"/>
<rect x="453.2" y="500.55" width="2.7" height="2.4" fill="#000"/>
<rect x="488.0" y="500.35" width="5.9" height="2.8" fill="#000"/>
<rect x="510.8" y="500.35" width="12.9" height="2.8" fill="#000"/>
<circle cx="432.1" cy="490.9" r="1.7" fill="#000"/>
<circle cx="430.2" cy="494.6" r="0.9" fill="#000"/>
<circle cx="430.2" cy="498.1" r="0.9" fill="#000"/>
<circle cx="430.2" cy="501.75" r="0.9" fill="#000"/>
<text x="360.8" y="517.6" font-size="9.4" textLength="24.2" lengthAdjust="spacingAndGlyphs" text-anchor="end" fill="#111">chr19</text>
<path d="M370 512.5H595.6" stroke="#666" stroke-width="0.8" fill="none"/>
<path d="M370 516H595.6" stroke="#b5b5b5" stroke-width="0.7" fill="none"/>
<path d="M375.6 516V520.5M465.5 516V520.5M554.6 516V520.5M420.6 516V518M509.6 516V518" stroke="#b5b5b5" stroke-width="0.7" fill="none"/>
<g font-size="8.8" fill="#111" text-anchor="middle"><text x="375.6" y="527.5">44.904Mb</text><text x="465" y="527.5">44.907Mb</text><text x="554.6" y="527.5">44.91Mb</text></g>
</g>

<!-- Panel d : stacked bar chart -->
<g id="panel-d">
<text x="647.3" y="305.8" font-size="16.5" font-weight="bold" fill="#000">d</text>
<text transform="translate(708.4,457.8) rotate(-90)" font-size="14.6" textLength="103" lengthAdjust="spacingAndGlyphs" fill="#000">Number of DEGs</text>
<rect x="741.4" y="303.5" width="210.2" height="205.5" fill="#fff"/>
<g stroke="#f0f0f0" stroke-width="0.5" fill="none">
<path d="M741.4 466.7H951.6M741.4 401.2H951.6M741.4 335.7H951.6"/>
</g>
<g stroke="#ebebeb" stroke-width="0.9" fill="none">
<path d="M741.4 499.5H951.6M741.4 434H951.6M741.4 368.4H951.6"/>
<path d="M771.4 303.5V509M821.4 303.5V509M871.4 303.5V509M921.4 303.5V509"/>
</g>
<g>
<rect x="749" y="450.5" width="45" height="30" fill="#c3d8e9"/>
<rect x="749" y="479.9" width="45" height="19.6" fill="#ebe08b"/>
<rect x="799" y="312.9" width="45" height="86" fill="#c3d8e9"/>
<rect x="799" y="398.4" width="45" height="101.1" fill="#ebe08b"/>
<rect x="849" y="471.1" width="45" height="16.5" fill="#c3d8e9"/>
<rect x="849" y="487.1" width="45" height="12.4" fill="#ebe08b"/>
<rect x="899" y="439.1" width="45" height="31.2" fill="#c3d8e9"/>
<rect x="899" y="469.8" width="45" height="29.7" fill="#ebe08b"/>
</g>
<rect x="741.4" y="303.5" width="210.2" height="205.5" fill="none" stroke="#333" stroke-width="0.9"/>
<path d="M741.4 303.5V509H951.6" fill="none" stroke="#808080" stroke-width="1.4"/>
<g stroke="#333" stroke-width="0.9" fill="none">
<path d="M738.7 499.5H741.4M738.7 434H741.4M738.7 368.4H741.4"/>
<path d="M771.4 509V511.7M821.4 509V511.7M871.4 509V511.7M921.4 509V511.7"/>
</g>
<g font-size="10.4" fill="#4d4d4d" text-anchor="end">
<text x="736.3" y="503.3">0</text>
<text x="736.3" y="437.8">500</text>
<text x="736.3" y="372.2">1000</text>
</g>
<g font-size="10.6" fill="#4d4d4d" text-anchor="middle">
<text x="771.4" y="521">E2vsE3</text>
<text x="821.4" y="521">E4vsE2</text>
<text x="871.4" y="521">E4vsE3</text>
<text x="921.4" y="521">KOvsE3</text>
</g>
<g font-size="11.9" fill="#111" text-anchor="middle">
<text x="771.4" y="469.4">224</text>
<text x="771.4" y="493.9">150</text>
<text x="821.4" y="359.9">652</text>
<text x="821.4" y="453.2">772</text>
<text x="871.4" y="483.3">122</text>
<text x="871.4" y="497.5">95</text>
<text x="921.4" y="458.7">234</text>
<text x="921.4" y="488.9">227</text>
</g>
<rect x="966" y="400.8" width="13.7" height="13.2" fill="#c3d8e9"/>
<rect x="966" y="415.3" width="13.7" height="13.4" fill="#ebe08b"/>
<g font-size="12.8" fill="#000">
<text x="985.5" y="412.2">Up</text>
<text x="985.5" y="427">Down</text>
</g>
</g>

</svg>
</body>
</html>
